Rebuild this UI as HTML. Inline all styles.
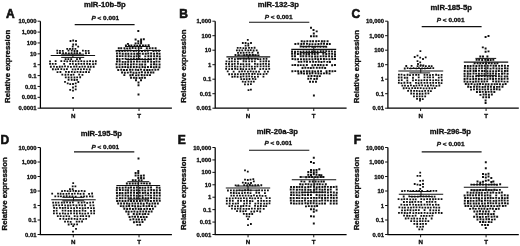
<!DOCTYPE html>
<html><head><meta charset="utf-8"><style>
html,body{margin:0;padding:0;background:#fff;}
svg{display:block;filter:blur(0.35px);}
text{font-family:"Liberation Sans",sans-serif;}
</style></head><body>
<svg width="520" height="246" viewBox="0 0 520 246" fill="#111">
<text x="6.1" y="18.3" font-size="12" font-family="Liberation Sans, sans-serif" font-weight="bold" stroke="#111" stroke-width="0.6">A</text>
<text x="0" y="0" font-size="7.5" text-anchor="middle" transform="translate(104.80 6.80) scale(1.025 1)" font-family="Liberation Sans, sans-serif" font-weight="bold" stroke="#111" stroke-width="0.32">miR-10b-5p</text>
<text x="0" y="0" font-size="6.2" text-anchor="middle" transform="translate(105.30 19.90) scale(1.04 1)" font-family="Liberation Sans, sans-serif" font-weight="bold" stroke="#111" stroke-width="0.32"><tspan font-style="italic">P</tspan> &lt; 0.001</text>
<line x1="74.7" x2="134.6" y1="24.6" y2="24.6" stroke="#111" stroke-width="1.15"/>
<path d="M40.40 21.20 V108.20 H171.90" fill="none" stroke="#000" stroke-width="1.25"/>
<line x1="37.60" x2="40.40" y1="21.20" y2="21.20" stroke="#111" stroke-width="1"/>
<text x="36.40" y="23.25" font-size="5.85" text-anchor="end" font-family="Liberation Sans, sans-serif" font-weight="bold" stroke="#111" stroke-width="0.32">10,000</text>
<line x1="37.60" x2="40.40" y1="32.08" y2="32.08" stroke="#111" stroke-width="1"/>
<text x="36.40" y="34.12" font-size="5.85" text-anchor="end" font-family="Liberation Sans, sans-serif" font-weight="bold" stroke="#111" stroke-width="0.32">1,000</text>
<line x1="37.60" x2="40.40" y1="42.95" y2="42.95" stroke="#111" stroke-width="1"/>
<text x="36.40" y="45.00" font-size="5.85" text-anchor="end" font-family="Liberation Sans, sans-serif" font-weight="bold" stroke="#111" stroke-width="0.32">100</text>
<line x1="37.60" x2="40.40" y1="53.83" y2="53.83" stroke="#111" stroke-width="1"/>
<text x="36.40" y="55.88" font-size="5.85" text-anchor="end" font-family="Liberation Sans, sans-serif" font-weight="bold" stroke="#111" stroke-width="0.32">10</text>
<line x1="37.60" x2="40.40" y1="64.70" y2="64.70" stroke="#111" stroke-width="1"/>
<text x="36.40" y="66.75" font-size="5.85" text-anchor="end" font-family="Liberation Sans, sans-serif" font-weight="bold" stroke="#111" stroke-width="0.32">1</text>
<line x1="37.60" x2="40.40" y1="75.58" y2="75.58" stroke="#111" stroke-width="1"/>
<text x="36.40" y="77.62" font-size="5.85" text-anchor="end" font-family="Liberation Sans, sans-serif" font-weight="bold" stroke="#111" stroke-width="0.32">0.1</text>
<line x1="37.60" x2="40.40" y1="86.45" y2="86.45" stroke="#111" stroke-width="1"/>
<text x="36.40" y="88.50" font-size="5.85" text-anchor="end" font-family="Liberation Sans, sans-serif" font-weight="bold" stroke="#111" stroke-width="0.32">0.01</text>
<line x1="37.60" x2="40.40" y1="97.33" y2="97.33" stroke="#111" stroke-width="1"/>
<text x="36.40" y="99.38" font-size="5.85" text-anchor="end" font-family="Liberation Sans, sans-serif" font-weight="bold" stroke="#111" stroke-width="0.32">0.001</text>
<line x1="37.60" x2="40.40" y1="108.20" y2="108.20" stroke="#111" stroke-width="1"/>
<text x="36.40" y="110.25" font-size="5.85" text-anchor="end" font-family="Liberation Sans, sans-serif" font-weight="bold" stroke="#111" stroke-width="0.32">0.0001</text>
<line x1="73.28" x2="73.28" y1="108.20" y2="111.00" stroke="#111" stroke-width="1"/>
<text x="73.28" y="117.50" font-size="6.2" text-anchor="middle" font-family="Liberation Sans, sans-serif" font-weight="bold" stroke="#111" stroke-width="0.32">N</text>
<line x1="139.03" x2="139.03" y1="108.20" y2="111.00" stroke="#111" stroke-width="1"/>
<text x="139.03" y="117.50" font-size="6.2" text-anchor="middle" font-family="Liberation Sans, sans-serif" font-weight="bold" stroke="#111" stroke-width="0.32">T</text>
<text x="0" y="0" font-size="7.3" text-anchor="middle" transform="translate(9.60 66.30) rotate(-90) scale(1.07 1)" font-family="Liberation Sans, sans-serif" font-weight="bold" stroke="#111" stroke-width="0.32">Relative expression</text>
<text x="179.2" y="18.3" font-size="12" font-family="Liberation Sans, sans-serif" font-weight="bold" stroke="#111" stroke-width="0.6">B</text>
<text x="0" y="0" font-size="7.5" text-anchor="middle" transform="translate(278.30 7.20) scale(1.025 1)" font-family="Liberation Sans, sans-serif" font-weight="bold" stroke="#111" stroke-width="0.32">miR-132-3p</text>
<text x="0" y="0" font-size="6.2" text-anchor="middle" transform="translate(278.65 18.50) scale(1.04 1)" font-family="Liberation Sans, sans-serif" font-weight="bold" stroke="#111" stroke-width="0.32"><tspan font-style="italic">P</tspan> &lt; 0.001</text>
<line x1="249.0" x2="309.3" y1="22.2" y2="22.2" stroke="#111" stroke-width="1.15"/>
<path d="M215.20 21.20 V108.20 H346.60" fill="none" stroke="#000" stroke-width="1.25"/>
<line x1="212.40" x2="215.20" y1="21.20" y2="21.20" stroke="#111" stroke-width="1"/>
<text x="211.20" y="23.25" font-size="5.85" text-anchor="end" font-family="Liberation Sans, sans-serif" font-weight="bold" stroke="#111" stroke-width="0.32">1,000</text>
<line x1="212.40" x2="215.20" y1="35.70" y2="35.70" stroke="#111" stroke-width="1"/>
<text x="211.20" y="37.75" font-size="5.85" text-anchor="end" font-family="Liberation Sans, sans-serif" font-weight="bold" stroke="#111" stroke-width="0.32">100</text>
<line x1="212.40" x2="215.20" y1="50.20" y2="50.20" stroke="#111" stroke-width="1"/>
<text x="211.20" y="52.25" font-size="5.85" text-anchor="end" font-family="Liberation Sans, sans-serif" font-weight="bold" stroke="#111" stroke-width="0.32">10</text>
<line x1="212.40" x2="215.20" y1="64.70" y2="64.70" stroke="#111" stroke-width="1"/>
<text x="211.20" y="66.75" font-size="5.85" text-anchor="end" font-family="Liberation Sans, sans-serif" font-weight="bold" stroke="#111" stroke-width="0.32">1</text>
<line x1="212.40" x2="215.20" y1="79.20" y2="79.20" stroke="#111" stroke-width="1"/>
<text x="211.20" y="81.25" font-size="5.85" text-anchor="end" font-family="Liberation Sans, sans-serif" font-weight="bold" stroke="#111" stroke-width="0.32">0.1</text>
<line x1="212.40" x2="215.20" y1="93.70" y2="93.70" stroke="#111" stroke-width="1"/>
<text x="211.20" y="95.75" font-size="5.85" text-anchor="end" font-family="Liberation Sans, sans-serif" font-weight="bold" stroke="#111" stroke-width="0.32">0.01</text>
<line x1="212.40" x2="215.20" y1="108.20" y2="108.20" stroke="#111" stroke-width="1"/>
<text x="211.20" y="110.25" font-size="5.85" text-anchor="end" font-family="Liberation Sans, sans-serif" font-weight="bold" stroke="#111" stroke-width="0.32">0.001</text>
<line x1="248.05" x2="248.05" y1="108.20" y2="111.00" stroke="#111" stroke-width="1"/>
<text x="248.05" y="117.50" font-size="6.2" text-anchor="middle" font-family="Liberation Sans, sans-serif" font-weight="bold" stroke="#111" stroke-width="0.32">N</text>
<line x1="313.75" x2="313.75" y1="108.20" y2="111.00" stroke="#111" stroke-width="1"/>
<text x="313.75" y="117.50" font-size="6.2" text-anchor="middle" font-family="Liberation Sans, sans-serif" font-weight="bold" stroke="#111" stroke-width="0.32">T</text>
<text x="0" y="0" font-size="7.3" text-anchor="middle" transform="translate(186.40 66.00) rotate(-90) scale(1.07 1)" font-family="Liberation Sans, sans-serif" font-weight="bold" stroke="#111" stroke-width="0.32">Relative expression</text>
<text x="351.5" y="18.3" font-size="12" font-family="Liberation Sans, sans-serif" font-weight="bold" stroke="#111" stroke-width="0.6">C</text>
<text x="0" y="0" font-size="7.5" text-anchor="middle" transform="translate(451.20 9.90) scale(1.025 1)" font-family="Liberation Sans, sans-serif" font-weight="bold" stroke="#111" stroke-width="0.32">miR-185-5p</text>
<text x="0" y="0" font-size="6.2" text-anchor="middle" transform="translate(450.65 21.90) scale(1.04 1)" font-family="Liberation Sans, sans-serif" font-weight="bold" stroke="#111" stroke-width="0.32"><tspan font-style="italic">P</tspan> &lt; 0.001</text>
<line x1="421.7" x2="481.6" y1="26.6" y2="26.6" stroke="#111" stroke-width="1.15"/>
<path d="M387.90 21.20 V108.20 H518.80" fill="none" stroke="#000" stroke-width="1.25"/>
<line x1="385.10" x2="387.90" y1="21.20" y2="21.20" stroke="#111" stroke-width="1"/>
<text x="383.90" y="23.25" font-size="5.85" text-anchor="end" font-family="Liberation Sans, sans-serif" font-weight="bold" stroke="#111" stroke-width="0.32">10,000</text>
<line x1="385.10" x2="387.90" y1="35.70" y2="35.70" stroke="#111" stroke-width="1"/>
<text x="383.90" y="37.75" font-size="5.85" text-anchor="end" font-family="Liberation Sans, sans-serif" font-weight="bold" stroke="#111" stroke-width="0.32">1,000</text>
<line x1="385.10" x2="387.90" y1="50.20" y2="50.20" stroke="#111" stroke-width="1"/>
<text x="383.90" y="52.25" font-size="5.85" text-anchor="end" font-family="Liberation Sans, sans-serif" font-weight="bold" stroke="#111" stroke-width="0.32">100</text>
<line x1="385.10" x2="387.90" y1="64.70" y2="64.70" stroke="#111" stroke-width="1"/>
<text x="383.90" y="66.75" font-size="5.85" text-anchor="end" font-family="Liberation Sans, sans-serif" font-weight="bold" stroke="#111" stroke-width="0.32">10</text>
<line x1="385.10" x2="387.90" y1="79.20" y2="79.20" stroke="#111" stroke-width="1"/>
<text x="383.90" y="81.25" font-size="5.85" text-anchor="end" font-family="Liberation Sans, sans-serif" font-weight="bold" stroke="#111" stroke-width="0.32">1</text>
<line x1="385.10" x2="387.90" y1="93.70" y2="93.70" stroke="#111" stroke-width="1"/>
<text x="383.90" y="95.75" font-size="5.85" text-anchor="end" font-family="Liberation Sans, sans-serif" font-weight="bold" stroke="#111" stroke-width="0.32">0.1</text>
<line x1="385.10" x2="387.90" y1="108.20" y2="108.20" stroke="#111" stroke-width="1"/>
<text x="383.90" y="110.25" font-size="5.85" text-anchor="end" font-family="Liberation Sans, sans-serif" font-weight="bold" stroke="#111" stroke-width="0.32">0.01</text>
<line x1="420.62" x2="420.62" y1="108.20" y2="111.00" stroke="#111" stroke-width="1"/>
<text x="420.62" y="117.50" font-size="6.2" text-anchor="middle" font-family="Liberation Sans, sans-serif" font-weight="bold" stroke="#111" stroke-width="0.32">N</text>
<line x1="486.07" x2="486.07" y1="108.20" y2="111.00" stroke="#111" stroke-width="1"/>
<text x="486.07" y="117.50" font-size="6.2" text-anchor="middle" font-family="Liberation Sans, sans-serif" font-weight="bold" stroke="#111" stroke-width="0.32">T</text>
<text x="0" y="0" font-size="7.3" text-anchor="middle" transform="translate(359.40 66.60) rotate(-90) scale(1.07 1)" font-family="Liberation Sans, sans-serif" font-weight="bold" stroke="#111" stroke-width="0.32">Relative expression</text>
<text x="0.6" y="143.9" font-size="12" font-family="Liberation Sans, sans-serif" font-weight="bold" stroke="#111" stroke-width="0.6">D</text>
<text x="0" y="0" font-size="7.5" text-anchor="middle" transform="translate(101.30 136.30) scale(1.025 1)" font-family="Liberation Sans, sans-serif" font-weight="bold" stroke="#111" stroke-width="0.32">miR-195-5p</text>
<text x="0" y="0" font-size="6.2" text-anchor="middle" transform="translate(105.30 148.90) scale(1.04 1)" font-family="Liberation Sans, sans-serif" font-weight="bold" stroke="#111" stroke-width="0.32"><tspan font-style="italic">P</tspan> &lt; 0.001</text>
<line x1="74.0" x2="134.3" y1="151.9" y2="151.9" stroke="#111" stroke-width="1.15"/>
<path d="M40.40 147.50 V234.50 H171.90" fill="none" stroke="#000" stroke-width="1.25"/>
<line x1="37.60" x2="40.40" y1="147.50" y2="147.50" stroke="#111" stroke-width="1"/>
<text x="36.40" y="149.55" font-size="5.85" text-anchor="end" font-family="Liberation Sans, sans-serif" font-weight="bold" stroke="#111" stroke-width="0.32">10,000</text>
<line x1="37.60" x2="40.40" y1="162.00" y2="162.00" stroke="#111" stroke-width="1"/>
<text x="36.40" y="164.05" font-size="5.85" text-anchor="end" font-family="Liberation Sans, sans-serif" font-weight="bold" stroke="#111" stroke-width="0.32">1,000</text>
<line x1="37.60" x2="40.40" y1="176.50" y2="176.50" stroke="#111" stroke-width="1"/>
<text x="36.40" y="178.55" font-size="5.85" text-anchor="end" font-family="Liberation Sans, sans-serif" font-weight="bold" stroke="#111" stroke-width="0.32">100</text>
<line x1="37.60" x2="40.40" y1="191.00" y2="191.00" stroke="#111" stroke-width="1"/>
<text x="36.40" y="193.05" font-size="5.85" text-anchor="end" font-family="Liberation Sans, sans-serif" font-weight="bold" stroke="#111" stroke-width="0.32">10</text>
<line x1="37.60" x2="40.40" y1="205.50" y2="205.50" stroke="#111" stroke-width="1"/>
<text x="36.40" y="207.55" font-size="5.85" text-anchor="end" font-family="Liberation Sans, sans-serif" font-weight="bold" stroke="#111" stroke-width="0.32">1</text>
<line x1="37.60" x2="40.40" y1="220.00" y2="220.00" stroke="#111" stroke-width="1"/>
<text x="36.40" y="222.05" font-size="5.85" text-anchor="end" font-family="Liberation Sans, sans-serif" font-weight="bold" stroke="#111" stroke-width="0.32">0.1</text>
<line x1="37.60" x2="40.40" y1="234.50" y2="234.50" stroke="#111" stroke-width="1"/>
<text x="36.40" y="236.55" font-size="5.85" text-anchor="end" font-family="Liberation Sans, sans-serif" font-weight="bold" stroke="#111" stroke-width="0.32">0.01</text>
<line x1="73.28" x2="73.28" y1="234.50" y2="237.30" stroke="#111" stroke-width="1"/>
<text x="73.28" y="243.80" font-size="6.2" text-anchor="middle" font-family="Liberation Sans, sans-serif" font-weight="bold" stroke="#111" stroke-width="0.32">N</text>
<line x1="139.03" x2="139.03" y1="234.50" y2="237.30" stroke="#111" stroke-width="1"/>
<text x="139.03" y="243.80" font-size="6.2" text-anchor="middle" font-family="Liberation Sans, sans-serif" font-weight="bold" stroke="#111" stroke-width="0.32">T</text>
<text x="0" y="0" font-size="7.3" text-anchor="middle" transform="translate(6.60 193.80) rotate(-90) scale(1.07 1)" font-family="Liberation Sans, sans-serif" font-weight="bold" stroke="#111" stroke-width="0.32">Relative expression</text>
<text x="177.7" y="143.9" font-size="12" font-family="Liberation Sans, sans-serif" font-weight="bold" stroke="#111" stroke-width="0.6">E</text>
<text x="0" y="0" font-size="7.5" text-anchor="middle" transform="translate(277.30 133.80) scale(1.025 1)" font-family="Liberation Sans, sans-serif" font-weight="bold" stroke="#111" stroke-width="0.32">miR-20a-3p</text>
<text x="0" y="0" font-size="6.2" text-anchor="middle" transform="translate(278.30 145.20) scale(1.04 1)" font-family="Liberation Sans, sans-serif" font-weight="bold" stroke="#111" stroke-width="0.32"><tspan font-style="italic">P</tspan> &lt; 0.001</text>
<line x1="249.0" x2="309.3" y1="150.2" y2="150.2" stroke="#111" stroke-width="1.15"/>
<path d="M215.20 147.50 V234.50 H346.60" fill="none" stroke="#000" stroke-width="1.25"/>
<line x1="212.40" x2="215.20" y1="147.50" y2="147.50" stroke="#111" stroke-width="1"/>
<text x="211.20" y="149.55" font-size="5.85" text-anchor="end" font-family="Liberation Sans, sans-serif" font-weight="bold" stroke="#111" stroke-width="0.32">10,000</text>
<line x1="212.40" x2="215.20" y1="159.93" y2="159.93" stroke="#111" stroke-width="1"/>
<text x="211.20" y="161.98" font-size="5.85" text-anchor="end" font-family="Liberation Sans, sans-serif" font-weight="bold" stroke="#111" stroke-width="0.32">1,000</text>
<line x1="212.40" x2="215.20" y1="172.36" y2="172.36" stroke="#111" stroke-width="1"/>
<text x="211.20" y="174.41" font-size="5.85" text-anchor="end" font-family="Liberation Sans, sans-serif" font-weight="bold" stroke="#111" stroke-width="0.32">100</text>
<line x1="212.40" x2="215.20" y1="184.79" y2="184.79" stroke="#111" stroke-width="1"/>
<text x="211.20" y="186.84" font-size="5.85" text-anchor="end" font-family="Liberation Sans, sans-serif" font-weight="bold" stroke="#111" stroke-width="0.32">10</text>
<line x1="212.40" x2="215.20" y1="197.21" y2="197.21" stroke="#111" stroke-width="1"/>
<text x="211.20" y="199.26" font-size="5.85" text-anchor="end" font-family="Liberation Sans, sans-serif" font-weight="bold" stroke="#111" stroke-width="0.32">1</text>
<line x1="212.40" x2="215.20" y1="209.64" y2="209.64" stroke="#111" stroke-width="1"/>
<text x="211.20" y="211.69" font-size="5.85" text-anchor="end" font-family="Liberation Sans, sans-serif" font-weight="bold" stroke="#111" stroke-width="0.32">0.1</text>
<line x1="212.40" x2="215.20" y1="222.07" y2="222.07" stroke="#111" stroke-width="1"/>
<text x="211.20" y="224.12" font-size="5.85" text-anchor="end" font-family="Liberation Sans, sans-serif" font-weight="bold" stroke="#111" stroke-width="0.32">0.01</text>
<line x1="212.40" x2="215.20" y1="234.50" y2="234.50" stroke="#111" stroke-width="1"/>
<text x="211.20" y="236.55" font-size="5.85" text-anchor="end" font-family="Liberation Sans, sans-serif" font-weight="bold" stroke="#111" stroke-width="0.32">0.001</text>
<line x1="248.05" x2="248.05" y1="234.50" y2="237.30" stroke="#111" stroke-width="1"/>
<text x="248.05" y="243.80" font-size="6.2" text-anchor="middle" font-family="Liberation Sans, sans-serif" font-weight="bold" stroke="#111" stroke-width="0.32">N</text>
<line x1="313.75" x2="313.75" y1="234.50" y2="237.30" stroke="#111" stroke-width="1"/>
<text x="313.75" y="243.80" font-size="6.2" text-anchor="middle" font-family="Liberation Sans, sans-serif" font-weight="bold" stroke="#111" stroke-width="0.32">T</text>
<text x="0" y="0" font-size="7.3" text-anchor="middle" transform="translate(185.50 193.40) rotate(-90) scale(1.07 1)" font-family="Liberation Sans, sans-serif" font-weight="bold" stroke="#111" stroke-width="0.32">Relative expression</text>
<text x="353.7" y="143.9" font-size="12" font-family="Liberation Sans, sans-serif" font-weight="bold" stroke="#111" stroke-width="0.6">F</text>
<text x="0" y="0" font-size="7.5" text-anchor="middle" transform="translate(450.35 133.80) scale(1.025 1)" font-family="Liberation Sans, sans-serif" font-weight="bold" stroke="#111" stroke-width="0.32">miR-296-5p</text>
<text x="0" y="0" font-size="6.2" text-anchor="middle" transform="translate(450.65 146.20) scale(1.04 1)" font-family="Liberation Sans, sans-serif" font-weight="bold" stroke="#111" stroke-width="0.32"><tspan font-style="italic">P</tspan> &lt; 0.001</text>
<line x1="421.7" x2="481.6" y1="151.9" y2="151.9" stroke="#111" stroke-width="1.15"/>
<path d="M387.90 147.50 V234.50 H518.80" fill="none" stroke="#000" stroke-width="1.25"/>
<line x1="385.10" x2="387.90" y1="147.50" y2="147.50" stroke="#111" stroke-width="1"/>
<text x="383.90" y="149.55" font-size="5.85" text-anchor="end" font-family="Liberation Sans, sans-serif" font-weight="bold" stroke="#111" stroke-width="0.32">10,000</text>
<line x1="385.10" x2="387.90" y1="162.00" y2="162.00" stroke="#111" stroke-width="1"/>
<text x="383.90" y="164.05" font-size="5.85" text-anchor="end" font-family="Liberation Sans, sans-serif" font-weight="bold" stroke="#111" stroke-width="0.32">1,000</text>
<line x1="385.10" x2="387.90" y1="176.50" y2="176.50" stroke="#111" stroke-width="1"/>
<text x="383.90" y="178.55" font-size="5.85" text-anchor="end" font-family="Liberation Sans, sans-serif" font-weight="bold" stroke="#111" stroke-width="0.32">100</text>
<line x1="385.10" x2="387.90" y1="191.00" y2="191.00" stroke="#111" stroke-width="1"/>
<text x="383.90" y="193.05" font-size="5.85" text-anchor="end" font-family="Liberation Sans, sans-serif" font-weight="bold" stroke="#111" stroke-width="0.32">10</text>
<line x1="385.10" x2="387.90" y1="205.50" y2="205.50" stroke="#111" stroke-width="1"/>
<text x="383.90" y="207.55" font-size="5.85" text-anchor="end" font-family="Liberation Sans, sans-serif" font-weight="bold" stroke="#111" stroke-width="0.32">1</text>
<line x1="385.10" x2="387.90" y1="220.00" y2="220.00" stroke="#111" stroke-width="1"/>
<text x="383.90" y="222.05" font-size="5.85" text-anchor="end" font-family="Liberation Sans, sans-serif" font-weight="bold" stroke="#111" stroke-width="0.32">0.1</text>
<line x1="385.10" x2="387.90" y1="234.50" y2="234.50" stroke="#111" stroke-width="1"/>
<text x="383.90" y="236.55" font-size="5.85" text-anchor="end" font-family="Liberation Sans, sans-serif" font-weight="bold" stroke="#111" stroke-width="0.32">0.01</text>
<line x1="420.62" x2="420.62" y1="234.50" y2="237.30" stroke="#111" stroke-width="1"/>
<text x="420.62" y="243.80" font-size="6.2" text-anchor="middle" font-family="Liberation Sans, sans-serif" font-weight="bold" stroke="#111" stroke-width="0.32">N</text>
<line x1="486.07" x2="486.07" y1="234.50" y2="237.30" stroke="#111" stroke-width="1"/>
<text x="486.07" y="243.80" font-size="6.2" text-anchor="middle" font-family="Liberation Sans, sans-serif" font-weight="bold" stroke="#111" stroke-width="0.32">T</text>
<text x="0" y="0" font-size="7.3" text-anchor="middle" transform="translate(359.20 193.70) rotate(-90) scale(1.07 1)" font-family="Liberation Sans, sans-serif" font-weight="bold" stroke="#111" stroke-width="0.32">Relative expression</text>
<line x1="50.70" x2="95.10" y1="55.50" y2="55.50" stroke="#111" stroke-width="1.1"/>
<line x1="61.20" x2="84.20" y1="54.20" y2="54.20" stroke="#111" stroke-width="1.0"/>
<line x1="61.20" x2="84.20" y1="57.40" y2="57.40" stroke="#111" stroke-width="1.0"/>
<line x1="72.90" x2="72.90" y1="54.20" y2="57.40" stroke="#111" stroke-width="1.0"/>
<line x1="116.40" x2="160.80" y1="50.50" y2="50.50" stroke="#111" stroke-width="1.1"/>
<line x1="125.00" x2="150.00" y1="46.50" y2="46.50" stroke="#111" stroke-width="1.0"/>
<line x1="126.00" x2="150.00" y1="59.50" y2="59.50" stroke="#111" stroke-width="1.0"/>
<line x1="138.60" x2="138.60" y1="46.50" y2="59.50" stroke="#111" stroke-width="1.0"/>
<line x1="226.40" x2="270.20" y1="56.90" y2="56.90" stroke="#111" stroke-width="1.1"/>
<line x1="236.70" x2="258.10" y1="55.20" y2="55.20" stroke="#111" stroke-width="1.0"/>
<line x1="236.70" x2="258.10" y1="58.70" y2="58.70" stroke="#111" stroke-width="1.0"/>
<line x1="248.30" x2="248.30" y1="55.20" y2="58.70" stroke="#111" stroke-width="1.0"/>
<line x1="291.30" x2="336.20" y1="49.40" y2="49.40" stroke="#111" stroke-width="1.1"/>
<line x1="300.00" x2="326.00" y1="46.40" y2="46.40" stroke="#111" stroke-width="1.0"/>
<line x1="300.00" x2="326.00" y1="52.60" y2="52.60" stroke="#111" stroke-width="1.0"/>
<line x1="313.75" x2="313.75" y1="46.40" y2="52.60" stroke="#111" stroke-width="1.0"/>
<line x1="398.30" x2="443.20" y1="71.00" y2="71.00" stroke="#111" stroke-width="1.1"/>
<line x1="409.00" x2="430.00" y1="68.50" y2="68.50" stroke="#111" stroke-width="1.0"/>
<line x1="409.30" x2="430.10" y1="72.90" y2="72.90" stroke="#111" stroke-width="1.0"/>
<line x1="420.75" x2="420.75" y1="68.50" y2="72.90" stroke="#111" stroke-width="1.0"/>
<line x1="463.80" x2="508.20" y1="62.10" y2="62.10" stroke="#111" stroke-width="1.1"/>
<line x1="475.40" x2="496.20" y1="58.40" y2="58.40" stroke="#111" stroke-width="1.0"/>
<line x1="476.00" x2="495.60" y1="75.70" y2="75.70" stroke="#111" stroke-width="1.0"/>
<line x1="486.00" x2="486.00" y1="58.40" y2="75.70" stroke="#111" stroke-width="1.0"/>
<line x1="51.30" x2="95.70" y1="199.70" y2="199.70" stroke="#111" stroke-width="1.1"/>
<line x1="62.30" x2="84.20" y1="197.30" y2="197.30" stroke="#111" stroke-width="1.0"/>
<line x1="62.30" x2="84.20" y1="200.80" y2="200.80" stroke="#111" stroke-width="1.0"/>
<line x1="73.50" x2="73.50" y1="197.30" y2="200.80" stroke="#111" stroke-width="1.0"/>
<line x1="116.40" x2="160.20" y1="185.50" y2="185.50" stroke="#111" stroke-width="1.1"/>
<line x1="127.40" x2="149.30" y1="181.70" y2="181.70" stroke="#111" stroke-width="1.0"/>
<line x1="128.40" x2="148.20" y1="199.10" y2="199.10" stroke="#111" stroke-width="1.0"/>
<line x1="138.30" x2="138.30" y1="181.70" y2="199.10" stroke="#111" stroke-width="1.0"/>
<line x1="225.80" x2="270.20" y1="188.00" y2="188.00" stroke="#111" stroke-width="1.1"/>
<line x1="236.00" x2="260.00" y1="186.00" y2="186.00" stroke="#111" stroke-width="1.0"/>
<line x1="236.00" x2="260.00" y1="190.20" y2="190.20" stroke="#111" stroke-width="1.0"/>
<line x1="248.00" x2="248.00" y1="186.00" y2="190.20" stroke="#111" stroke-width="1.0"/>
<line x1="291.80" x2="336.20" y1="179.70" y2="179.70" stroke="#111" stroke-width="1.1"/>
<line x1="301.00" x2="324.00" y1="177.00" y2="177.00" stroke="#111" stroke-width="1.0"/>
<line x1="301.00" x2="324.00" y1="192.30" y2="192.30" stroke="#111" stroke-width="1.0"/>
<line x1="314.00" x2="314.00" y1="177.00" y2="192.30" stroke="#111" stroke-width="1.0"/>
<line x1="398.80" x2="443.20" y1="194.20" y2="194.20" stroke="#111" stroke-width="1.1"/>
<line x1="409.30" x2="431.20" y1="191.50" y2="191.50" stroke="#111" stroke-width="1.0"/>
<line x1="409.30" x2="431.20" y1="196.60" y2="196.60" stroke="#111" stroke-width="1.0"/>
<line x1="421.00" x2="421.00" y1="191.50" y2="196.60" stroke="#111" stroke-width="1.0"/>
<line x1="463.80" x2="508.20" y1="187.30" y2="187.30" stroke="#111" stroke-width="1.1"/>
<line x1="472.00" x2="496.20" y1="184.70" y2="184.70" stroke="#111" stroke-width="1.0"/>
<line x1="472.00" x2="496.20" y1="190.00" y2="190.00" stroke="#111" stroke-width="1.0"/>
<line x1="486.00" x2="486.00" y1="184.70" y2="190.00" stroke="#111" stroke-width="1.0"/>
<path d="M69.60 40.10h1.8v1.8h-1.8zM72.30 39.60h1.8v1.8h-1.8zM75.10 40.10h1.8v1.8h-1.8zM72.30 43.60h1.8v1.8h-1.8zM75.10 43.60h1.8v1.8h-1.8zM71.80 45.80h1.8v1.8h-1.8zM77.30 45.80h1.8v1.8h-1.8zM66.30 48.00h1.8v1.8h-1.8zM69.10 48.00h1.8v1.8h-1.8zM71.80 48.00h1.8v1.8h-1.8zM74.50 48.00h1.8v1.8h-1.8zM64.10 80.90h1.8v1.8h-1.8zM66.80 82.50h1.8v1.8h-1.8zM69.30 83.20h1.8v1.8h-1.8zM72.10 83.10h1.8v1.8h-1.8zM74.80 82.50h1.8v1.8h-1.8zM77.40 81.10h1.8v1.8h-1.8zM74.80 85.40h1.8v1.8h-1.8zM72.10 86.60h1.8v1.8h-1.8zM69.30 88.90h1.8v1.8h-1.8zM72.10 89.70h1.8v1.8h-1.8zM74.80 88.40h1.8v1.8h-1.8zM72.10 96.90h1.8v1.8h-1.8zM56.34 49.76h1.8v1.8h-1.8zM59.06 49.91h1.8v1.8h-1.8zM61.90 49.90h1.8v1.8h-1.8zM67.61 49.74h1.8v1.8h-1.8zM70.84 49.75h1.8v1.8h-1.8zM73.59 50.08h1.8v1.8h-1.8zM76.32 50.09h1.8v1.8h-1.8zM81.97 49.76h1.8v1.8h-1.8zM84.83 50.03h1.8v1.8h-1.8zM87.62 49.93h1.8v1.8h-1.8zM56.49 52.25h1.8v1.8h-1.8zM59.06 52.12h1.8v1.8h-1.8zM62.22 52.27h1.8v1.8h-1.8zM65.02 52.28h1.8v1.8h-1.8zM67.97 52.38h1.8v1.8h-1.8zM70.71 52.31h1.8v1.8h-1.8zM73.64 52.22h1.8v1.8h-1.8zM76.18 52.27h1.8v1.8h-1.8zM79.05 52.30h1.8v1.8h-1.8zM85.06 52.33h1.8v1.8h-1.8zM87.96 52.23h1.8v1.8h-1.8zM64.72 58.14h1.8v1.8h-1.8zM67.45 58.24h1.8v1.8h-1.8zM70.31 58.17h1.8v1.8h-1.8zM76.10 58.30h1.8v1.8h-1.8zM79.04 58.01h1.8v1.8h-1.8zM49.14 60.47h1.8v1.8h-1.8zM54.73 60.25h1.8v1.8h-1.8zM60.41 60.30h1.8v1.8h-1.8zM63.64 60.23h1.8v1.8h-1.8zM66.32 60.55h1.8v1.8h-1.8zM69.33 60.31h1.8v1.8h-1.8zM71.93 60.55h1.8v1.8h-1.8zM74.68 60.27h1.8v1.8h-1.8zM77.57 60.39h1.8v1.8h-1.8zM80.43 60.20h1.8v1.8h-1.8zM83.33 60.43h1.8v1.8h-1.8zM86.35 60.41h1.8v1.8h-1.8zM89.19 60.22h1.8v1.8h-1.8zM92.09 60.55h1.8v1.8h-1.8zM94.95 60.36h1.8v1.8h-1.8zM49.15 62.91h1.8v1.8h-1.8zM51.83 62.90h1.8v1.8h-1.8zM54.73 63.01h1.8v1.8h-1.8zM63.25 63.02h1.8v1.8h-1.8zM69.21 62.93h1.8v1.8h-1.8zM71.92 63.02h1.8v1.8h-1.8zM75.02 63.27h1.8v1.8h-1.8zM77.69 62.91h1.8v1.8h-1.8zM80.47 62.98h1.8v1.8h-1.8zM83.23 62.88h1.8v1.8h-1.8zM86.26 62.93h1.8v1.8h-1.8zM88.86 63.08h1.8v1.8h-1.8zM92.13 63.15h1.8v1.8h-1.8zM94.68 63.02h1.8v1.8h-1.8zM49.94 65.85h1.8v1.8h-1.8zM53.10 65.67h1.8v1.8h-1.8zM55.96 65.94h1.8v1.8h-1.8zM58.81 65.87h1.8v1.8h-1.8zM61.37 65.75h1.8v1.8h-1.8zM64.12 65.55h1.8v1.8h-1.8zM67.09 65.82h1.8v1.8h-1.8zM70.03 65.92h1.8v1.8h-1.8zM73.13 65.69h1.8v1.8h-1.8zM75.62 65.62h1.8v1.8h-1.8zM78.67 65.90h1.8v1.8h-1.8zM81.45 65.80h1.8v1.8h-1.8zM84.10 65.81h1.8v1.8h-1.8zM87.30 65.84h1.8v1.8h-1.8zM89.85 65.86h1.8v1.8h-1.8zM92.77 65.86h1.8v1.8h-1.8zM51.95 68.37h1.8v1.8h-1.8zM54.79 68.50h1.8v1.8h-1.8zM57.23 68.27h1.8v1.8h-1.8zM60.42 68.27h1.8v1.8h-1.8zM63.35 68.48h1.8v1.8h-1.8zM65.99 68.27h1.8v1.8h-1.8zM71.74 68.42h1.8v1.8h-1.8zM74.48 68.56h1.8v1.8h-1.8zM77.22 68.32h1.8v1.8h-1.8zM80.08 68.45h1.8v1.8h-1.8zM83.02 68.27h1.8v1.8h-1.8zM85.84 68.40h1.8v1.8h-1.8zM88.81 68.58h1.8v1.8h-1.8zM56.61 71.25h1.8v1.8h-1.8zM59.52 71.10h1.8v1.8h-1.8zM65.04 70.89h1.8v1.8h-1.8zM67.89 71.08h1.8v1.8h-1.8zM70.93 71.02h1.8v1.8h-1.8zM73.78 71.20h1.8v1.8h-1.8zM76.63 70.99h1.8v1.8h-1.8zM79.59 71.09h1.8v1.8h-1.8zM82.43 71.25h1.8v1.8h-1.8zM85.21 71.09h1.8v1.8h-1.8zM88.01 71.16h1.8v1.8h-1.8zM61.42 73.77h1.8v1.8h-1.8zM64.52 73.84h1.8v1.8h-1.8zM67.37 73.66h1.8v1.8h-1.8zM70.22 73.89h1.8v1.8h-1.8zM72.66 73.73h1.8v1.8h-1.8zM78.33 73.82h1.8v1.8h-1.8zM81.54 73.92h1.8v1.8h-1.8zM64.86 76.52h1.8v1.8h-1.8zM67.70 76.58h1.8v1.8h-1.8zM70.59 76.61h1.8v1.8h-1.8zM73.57 76.62h1.8v1.8h-1.8zM76.26 76.40h1.8v1.8h-1.8zM79.29 76.36h1.8v1.8h-1.8zM67.67 79.03h1.8v1.8h-1.8zM70.79 78.91h1.8v1.8h-1.8zM73.55 79.08h1.8v1.8h-1.8zM76.13 79.03h1.8v1.8h-1.8zM137.33 30.12h1.95v1.95h-1.95zM134.62 38.52h1.95v1.95h-1.95zM140.12 38.52h1.95v1.95h-1.95zM142.83 38.23h1.95v1.95h-1.95zM137.33 40.32h1.95v1.95h-1.95zM140.12 40.62h1.95v1.95h-1.95zM134.62 42.42h1.95v1.95h-1.95zM137.33 42.42h1.95v1.95h-1.95zM140.12 42.42h1.95v1.95h-1.95zM126.93 42.92h1.95v1.95h-1.95zM135.03 79.33h1.95v1.95h-1.95zM140.03 79.33h1.95v1.95h-1.95zM137.53 81.53h1.95v1.95h-1.95zM137.53 84.23h1.95v1.95h-1.95zM137.53 93.62h1.95v1.95h-1.95zM124.94 44.53h1.95v1.95h-1.95zM127.97 44.64h1.95v1.95h-1.95zM130.38 44.43h1.95v1.95h-1.95zM133.56 44.43h1.95v1.95h-1.95zM136.24 44.69h1.95v1.95h-1.95zM139.00 44.38h1.95v1.95h-1.95zM142.01 44.61h1.95v1.95h-1.95zM144.60 44.60h1.95v1.95h-1.95zM147.64 44.35h1.95v1.95h-1.95zM117.80 47.28h1.95v1.95h-1.95zM120.23 47.37h1.95v1.95h-1.95zM123.47 47.21h1.95v1.95h-1.95zM126.16 47.40h1.95v1.95h-1.95zM128.80 47.24h1.95v1.95h-1.95zM131.64 47.09h1.95v1.95h-1.95zM134.53 47.15h1.95v1.95h-1.95zM137.66 47.14h1.95v1.95h-1.95zM140.22 47.16h1.95v1.95h-1.95zM145.84 47.32h1.95v1.95h-1.95zM148.78 47.21h1.95v1.95h-1.95zM151.59 47.35h1.95v1.95h-1.95zM154.60 47.22h1.95v1.95h-1.95zM115.66 49.88h1.95v1.95h-1.95zM118.43 50.12h1.95v1.95h-1.95zM121.36 50.01h1.95v1.95h-1.95zM123.99 49.86h1.95v1.95h-1.95zM126.70 49.75h1.95v1.95h-1.95zM129.62 49.79h1.95v1.95h-1.95zM132.76 50.07h1.95v1.95h-1.95zM135.33 49.82h1.95v1.95h-1.95zM138.27 49.79h1.95v1.95h-1.95zM141.02 50.11h1.95v1.95h-1.95zM144.01 49.82h1.95v1.95h-1.95zM146.74 49.87h1.95v1.95h-1.95zM152.53 49.93h1.95v1.95h-1.95zM155.39 49.73h1.95v1.95h-1.95zM158.12 49.76h1.95v1.95h-1.95zM115.98 52.44h1.95v1.95h-1.95zM118.78 52.52h1.95v1.95h-1.95zM121.75 52.73h1.95v1.95h-1.95zM124.69 52.78h1.95v1.95h-1.95zM127.34 52.82h1.95v1.95h-1.95zM130.39 52.68h1.95v1.95h-1.95zM133.30 52.78h1.95v1.95h-1.95zM136.10 52.75h1.95v1.95h-1.95zM138.84 52.63h1.95v1.95h-1.95zM141.83 52.76h1.95v1.95h-1.95zM144.73 52.70h1.95v1.95h-1.95zM147.25 52.44h1.95v1.95h-1.95zM150.16 52.47h1.95v1.95h-1.95zM153.11 52.68h1.95v1.95h-1.95zM156.02 52.62h1.95v1.95h-1.95zM158.53 52.74h1.95v1.95h-1.95zM116.08 55.33h1.95v1.95h-1.95zM118.89 55.15h1.95v1.95h-1.95zM121.53 55.15h1.95v1.95h-1.95zM124.62 55.21h1.95v1.95h-1.95zM127.60 55.32h1.95v1.95h-1.95zM130.20 55.40h1.95v1.95h-1.95zM133.12 55.38h1.95v1.95h-1.95zM135.73 55.23h1.95v1.95h-1.95zM138.66 55.35h1.95v1.95h-1.95zM144.34 55.39h1.95v1.95h-1.95zM147.40 55.24h1.95v1.95h-1.95zM150.14 55.31h1.95v1.95h-1.95zM153.21 55.20h1.95v1.95h-1.95zM156.08 55.13h1.95v1.95h-1.95zM158.69 55.45h1.95v1.95h-1.95zM116.12 58.00h1.95v1.95h-1.95zM118.59 58.20h1.95v1.95h-1.95zM121.63 57.88h1.95v1.95h-1.95zM124.66 57.88h1.95v1.95h-1.95zM127.29 58.18h1.95v1.95h-1.95zM130.00 58.18h1.95v1.95h-1.95zM132.75 57.83h1.95v1.95h-1.95zM135.81 57.95h1.95v1.95h-1.95zM138.61 57.95h1.95v1.95h-1.95zM141.29 58.13h1.95v1.95h-1.95zM144.20 58.20h1.95v1.95h-1.95zM147.44 57.94h1.95v1.95h-1.95zM150.03 58.22h1.95v1.95h-1.95zM152.87 58.00h1.95v1.95h-1.95zM155.56 57.87h1.95v1.95h-1.95zM158.80 57.94h1.95v1.95h-1.95zM116.03 60.62h1.95v1.95h-1.95zM118.67 60.60h1.95v1.95h-1.95zM121.74 60.88h1.95v1.95h-1.95zM124.43 60.89h1.95v1.95h-1.95zM127.24 60.81h1.95v1.95h-1.95zM130.18 60.71h1.95v1.95h-1.95zM132.99 60.64h1.95v1.95h-1.95zM135.98 60.58h1.95v1.95h-1.95zM138.53 60.64h1.95v1.95h-1.95zM141.70 60.63h1.95v1.95h-1.95zM144.21 60.75h1.95v1.95h-1.95zM147.00 60.59h1.95v1.95h-1.95zM150.22 60.72h1.95v1.95h-1.95zM153.07 60.92h1.95v1.95h-1.95zM155.53 60.60h1.95v1.95h-1.95zM158.36 60.66h1.95v1.95h-1.95zM115.54 63.32h1.95v1.95h-1.95zM118.63 63.58h1.95v1.95h-1.95zM121.40 63.39h1.95v1.95h-1.95zM124.23 63.36h1.95v1.95h-1.95zM127.03 63.61h1.95v1.95h-1.95zM129.99 63.48h1.95v1.95h-1.95zM132.70 63.33h1.95v1.95h-1.95zM135.64 63.40h1.95v1.95h-1.95zM138.71 63.57h1.95v1.95h-1.95zM141.16 63.51h1.95v1.95h-1.95zM144.23 63.46h1.95v1.95h-1.95zM150.15 63.56h1.95v1.95h-1.95zM153.03 63.32h1.95v1.95h-1.95zM155.47 63.43h1.95v1.95h-1.95zM158.58 63.60h1.95v1.95h-1.95zM115.81 66.18h1.95v1.95h-1.95zM118.53 66.15h1.95v1.95h-1.95zM121.54 66.02h1.95v1.95h-1.95zM124.32 66.05h1.95v1.95h-1.95zM126.98 66.18h1.95v1.95h-1.95zM129.76 65.95h1.95v1.95h-1.95zM132.84 66.08h1.95v1.95h-1.95zM135.70 65.93h1.95v1.95h-1.95zM138.48 66.31h1.95v1.95h-1.95zM141.54 66.12h1.95v1.95h-1.95zM144.07 66.31h1.95v1.95h-1.95zM146.95 65.93h1.95v1.95h-1.95zM149.99 66.09h1.95v1.95h-1.95zM152.83 66.30h1.95v1.95h-1.95zM155.37 66.06h1.95v1.95h-1.95zM158.41 66.20h1.95v1.95h-1.95zM117.28 68.94h1.95v1.95h-1.95zM120.28 68.71h1.95v1.95h-1.95zM123.04 68.95h1.95v1.95h-1.95zM125.84 68.93h1.95v1.95h-1.95zM129.06 68.82h1.95v1.95h-1.95zM131.54 68.79h1.95v1.95h-1.95zM134.76 68.68h1.95v1.95h-1.95zM137.24 69.01h1.95v1.95h-1.95zM140.01 68.65h1.95v1.95h-1.95zM143.28 68.98h1.95v1.95h-1.95zM146.18 69.00h1.95v1.95h-1.95zM148.62 69.00h1.95v1.95h-1.95zM151.40 68.89h1.95v1.95h-1.95zM154.42 68.76h1.95v1.95h-1.95zM157.17 68.63h1.95v1.95h-1.95zM121.07 71.47h1.95v1.95h-1.95zM123.84 71.71h1.95v1.95h-1.95zM126.81 71.65h1.95v1.95h-1.95zM129.69 71.34h1.95v1.95h-1.95zM132.51 71.69h1.95v1.95h-1.95zM135.36 71.68h1.95v1.95h-1.95zM138.23 71.65h1.95v1.95h-1.95zM140.90 71.34h1.95v1.95h-1.95zM144.19 71.43h1.95v1.95h-1.95zM147.03 71.46h1.95v1.95h-1.95zM149.91 71.57h1.95v1.95h-1.95zM152.41 71.61h1.95v1.95h-1.95zM123.35 74.14h1.95v1.95h-1.95zM129.35 74.28h1.95v1.95h-1.95zM131.75 74.12h1.95v1.95h-1.95zM135.07 74.41h1.95v1.95h-1.95zM137.56 74.20h1.95v1.95h-1.95zM140.75 74.10h1.95v1.95h-1.95zM143.51 74.35h1.95v1.95h-1.95zM146.29 74.16h1.95v1.95h-1.95zM149.00 74.17h1.95v1.95h-1.95zM130.04 76.76h1.95v1.95h-1.95zM132.88 76.82h1.95v1.95h-1.95zM135.37 76.95h1.95v1.95h-1.95zM138.69 77.08h1.95v1.95h-1.95zM141.18 76.76h1.95v1.95h-1.95zM143.95 76.92h1.95v1.95h-1.95zM246.90 39.00h1.8v1.8h-1.8zM241.90 42.10h1.8v1.8h-1.8zM244.70 42.10h1.8v1.8h-1.8zM247.40 42.70h1.8v1.8h-1.8zM250.10 42.10h1.8v1.8h-1.8zM244.70 44.70h1.8v1.8h-1.8zM247.40 44.70h1.8v1.8h-1.8zM247.60 89.30h1.8v1.8h-1.8zM250.00 88.80h1.8v1.8h-1.8zM236.80 46.98h1.8v1.8h-1.8zM239.51 47.05h1.8v1.8h-1.8zM242.52 47.14h1.8v1.8h-1.8zM245.06 47.14h1.8v1.8h-1.8zM248.13 46.95h1.8v1.8h-1.8zM250.80 46.90h1.8v1.8h-1.8zM253.67 46.86h1.8v1.8h-1.8zM235.97 49.43h1.8v1.8h-1.8zM238.57 49.60h1.8v1.8h-1.8zM241.34 49.52h1.8v1.8h-1.8zM244.57 49.24h1.8v1.8h-1.8zM247.33 49.54h1.8v1.8h-1.8zM249.80 49.32h1.8v1.8h-1.8zM252.72 49.59h1.8v1.8h-1.8zM255.77 49.57h1.8v1.8h-1.8zM237.12 51.95h1.8v1.8h-1.8zM239.91 51.91h1.8v1.8h-1.8zM242.68 51.84h1.8v1.8h-1.8zM245.59 51.75h1.8v1.8h-1.8zM248.43 51.70h1.8v1.8h-1.8zM251.51 51.68h1.8v1.8h-1.8zM257.04 51.87h1.8v1.8h-1.8zM234.54 54.12h1.8v1.8h-1.8zM237.70 54.22h1.8v1.8h-1.8zM243.20 54.22h1.8v1.8h-1.8zM245.90 54.07h1.8v1.8h-1.8zM248.90 54.11h1.8v1.8h-1.8zM252.03 54.12h1.8v1.8h-1.8zM254.58 54.17h1.8v1.8h-1.8zM257.68 54.40h1.8v1.8h-1.8zM228.31 57.88h1.8v1.8h-1.8zM231.08 57.80h1.8v1.8h-1.8zM234.04 58.13h1.8v1.8h-1.8zM237.12 57.98h1.8v1.8h-1.8zM239.53 58.02h1.8v1.8h-1.8zM242.83 57.84h1.8v1.8h-1.8zM245.41 58.00h1.8v1.8h-1.8zM248.22 58.01h1.8v1.8h-1.8zM250.98 58.00h1.8v1.8h-1.8zM254.26 57.88h1.8v1.8h-1.8zM257.10 58.19h1.8v1.8h-1.8zM259.50 58.17h1.8v1.8h-1.8zM262.78 58.05h1.8v1.8h-1.8zM265.59 57.86h1.8v1.8h-1.8zM225.57 60.42h1.8v1.8h-1.8zM228.45 60.66h1.8v1.8h-1.8zM230.99 60.49h1.8v1.8h-1.8zM233.92 60.38h1.8v1.8h-1.8zM236.94 60.69h1.8v1.8h-1.8zM242.66 60.35h1.8v1.8h-1.8zM245.19 60.57h1.8v1.8h-1.8zM248.29 60.45h1.8v1.8h-1.8zM251.12 60.50h1.8v1.8h-1.8zM253.90 60.51h1.8v1.8h-1.8zM259.62 60.42h1.8v1.8h-1.8zM262.62 60.51h1.8v1.8h-1.8zM265.31 60.37h1.8v1.8h-1.8zM267.99 60.50h1.8v1.8h-1.8zM225.22 63.04h1.8v1.8h-1.8zM228.05 63.11h1.8v1.8h-1.8zM231.24 63.17h1.8v1.8h-1.8zM233.75 63.06h1.8v1.8h-1.8zM237.05 62.91h1.8v1.8h-1.8zM239.92 63.15h1.8v1.8h-1.8zM242.37 63.25h1.8v1.8h-1.8zM245.60 63.23h1.8v1.8h-1.8zM248.37 63.23h1.8v1.8h-1.8zM254.05 62.92h1.8v1.8h-1.8zM256.66 63.19h1.8v1.8h-1.8zM259.63 63.23h1.8v1.8h-1.8zM262.36 63.06h1.8v1.8h-1.8zM265.09 62.93h1.8v1.8h-1.8zM268.01 63.23h1.8v1.8h-1.8zM225.51 65.75h1.8v1.8h-1.8zM228.42 65.44h1.8v1.8h-1.8zM231.19 65.53h1.8v1.8h-1.8zM234.00 65.62h1.8v1.8h-1.8zM236.63 65.79h1.8v1.8h-1.8zM239.62 65.71h1.8v1.8h-1.8zM242.77 65.62h1.8v1.8h-1.8zM245.51 65.57h1.8v1.8h-1.8zM248.35 65.41h1.8v1.8h-1.8zM250.95 65.65h1.8v1.8h-1.8zM253.97 65.66h1.8v1.8h-1.8zM256.53 65.40h1.8v1.8h-1.8zM259.68 65.56h1.8v1.8h-1.8zM262.67 65.44h1.8v1.8h-1.8zM265.40 65.40h1.8v1.8h-1.8zM267.93 65.53h1.8v1.8h-1.8zM225.23 68.06h1.8v1.8h-1.8zM228.32 68.16h1.8v1.8h-1.8zM231.19 68.11h1.8v1.8h-1.8zM234.19 68.02h1.8v1.8h-1.8zM236.62 68.18h1.8v1.8h-1.8zM239.82 68.08h1.8v1.8h-1.8zM242.28 68.18h1.8v1.8h-1.8zM245.30 68.18h1.8v1.8h-1.8zM248.44 68.21h1.8v1.8h-1.8zM251.28 67.94h1.8v1.8h-1.8zM253.88 68.02h1.8v1.8h-1.8zM259.38 68.14h1.8v1.8h-1.8zM262.30 68.00h1.8v1.8h-1.8zM265.33 68.18h1.8v1.8h-1.8zM268.33 67.99h1.8v1.8h-1.8zM226.80 70.57h1.8v1.8h-1.8zM232.74 70.74h1.8v1.8h-1.8zM238.42 70.64h1.8v1.8h-1.8zM241.12 70.54h1.8v1.8h-1.8zM243.86 70.47h1.8v1.8h-1.8zM246.97 70.73h1.8v1.8h-1.8zM249.80 70.56h1.8v1.8h-1.8zM252.51 70.77h1.8v1.8h-1.8zM255.28 70.71h1.8v1.8h-1.8zM258.10 70.80h1.8v1.8h-1.8zM263.81 70.75h1.8v1.8h-1.8zM267.02 70.75h1.8v1.8h-1.8zM228.27 73.33h1.8v1.8h-1.8zM231.08 73.34h1.8v1.8h-1.8zM234.16 73.25h1.8v1.8h-1.8zM236.89 73.32h1.8v1.8h-1.8zM239.94 73.15h1.8v1.8h-1.8zM242.64 73.10h1.8v1.8h-1.8zM245.52 73.01h1.8v1.8h-1.8zM248.13 72.99h1.8v1.8h-1.8zM251.37 73.12h1.8v1.8h-1.8zM253.77 73.00h1.8v1.8h-1.8zM256.93 73.26h1.8v1.8h-1.8zM259.49 73.22h1.8v1.8h-1.8zM262.72 73.31h1.8v1.8h-1.8zM265.60 73.01h1.8v1.8h-1.8zM231.42 75.88h1.8v1.8h-1.8zM233.89 75.59h1.8v1.8h-1.8zM236.71 75.85h1.8v1.8h-1.8zM239.86 75.84h1.8v1.8h-1.8zM242.53 75.55h1.8v1.8h-1.8zM245.62 75.59h1.8v1.8h-1.8zM248.30 75.52h1.8v1.8h-1.8zM251.08 75.80h1.8v1.8h-1.8zM253.95 75.90h1.8v1.8h-1.8zM257.06 75.76h1.8v1.8h-1.8zM262.54 75.68h1.8v1.8h-1.8zM240.41 78.18h1.8v1.8h-1.8zM243.14 78.13h1.8v1.8h-1.8zM245.77 78.37h1.8v1.8h-1.8zM248.58 78.12h1.8v1.8h-1.8zM251.91 78.04h1.8v1.8h-1.8zM254.52 78.24h1.8v1.8h-1.8zM241.85 80.64h1.8v1.8h-1.8zM244.47 80.90h1.8v1.8h-1.8zM247.62 80.68h1.8v1.8h-1.8zM250.35 80.77h1.8v1.8h-1.8zM252.90 80.82h1.8v1.8h-1.8zM244.04 83.42h1.8v1.8h-1.8zM247.20 83.41h1.8v1.8h-1.8zM250.01 83.24h1.8v1.8h-1.8zM310.02 26.82h1.95v1.95h-1.95zM312.52 29.12h1.95v1.95h-1.95zM315.72 30.42h1.95v1.95h-1.95zM312.82 32.52h1.95v1.95h-1.95zM310.02 35.23h1.95v1.95h-1.95zM312.82 35.23h1.95v1.95h-1.95zM315.52 35.23h1.95v1.95h-1.95zM312.92 94.53h1.95v1.95h-1.95zM300.75 40.18h1.95v1.95h-1.95zM303.44 40.38h1.95v1.95h-1.95zM306.35 40.13h1.95v1.95h-1.95zM309.35 40.18h1.95v1.95h-1.95zM312.07 40.21h1.95v1.95h-1.95zM315.18 40.33h1.95v1.95h-1.95zM317.82 40.16h1.95v1.95h-1.95zM320.92 40.29h1.95v1.95h-1.95zM323.43 40.20h1.95v1.95h-1.95zM326.59 40.26h1.95v1.95h-1.95zM294.39 42.96h1.95v1.95h-1.95zM297.29 42.85h1.95v1.95h-1.95zM300.37 43.11h1.95v1.95h-1.95zM302.95 42.87h1.95v1.95h-1.95zM305.98 42.84h1.95v1.95h-1.95zM308.67 43.17h1.95v1.95h-1.95zM311.47 43.16h1.95v1.95h-1.95zM314.47 43.17h1.95v1.95h-1.95zM317.49 42.95h1.95v1.95h-1.95zM320.29 42.82h1.95v1.95h-1.95zM323.02 42.79h1.95v1.95h-1.95zM326.07 43.05h1.95v1.95h-1.95zM328.77 43.03h1.95v1.95h-1.95zM299.68 45.58h1.95v1.95h-1.95zM302.50 45.82h1.95v1.95h-1.95zM305.37 45.75h1.95v1.95h-1.95zM308.21 45.62h1.95v1.95h-1.95zM311.29 45.83h1.95v1.95h-1.95zM314.13 45.80h1.95v1.95h-1.95zM316.78 45.65h1.95v1.95h-1.95zM319.45 45.69h1.95v1.95h-1.95zM322.61 45.78h1.95v1.95h-1.95zM325.23 45.69h1.95v1.95h-1.95zM291.08 50.57h1.95v1.95h-1.95zM294.04 50.70h1.95v1.95h-1.95zM296.88 50.64h1.95v1.95h-1.95zM299.64 50.71h1.95v1.95h-1.95zM302.52 50.39h1.95v1.95h-1.95zM305.57 50.53h1.95v1.95h-1.95zM308.24 50.54h1.95v1.95h-1.95zM311.06 50.58h1.95v1.95h-1.95zM313.91 50.49h1.95v1.95h-1.95zM316.61 50.60h1.95v1.95h-1.95zM319.73 50.37h1.95v1.95h-1.95zM322.38 50.35h1.95v1.95h-1.95zM325.25 50.33h1.95v1.95h-1.95zM328.11 50.60h1.95v1.95h-1.95zM330.88 50.41h1.95v1.95h-1.95zM333.97 50.70h1.95v1.95h-1.95zM291.11 52.86h1.95v1.95h-1.95zM293.90 52.86h1.95v1.95h-1.95zM296.94 53.10h1.95v1.95h-1.95zM299.63 53.00h1.95v1.95h-1.95zM302.73 52.92h1.95v1.95h-1.95zM305.51 53.10h1.95v1.95h-1.95zM308.10 52.99h1.95v1.95h-1.95zM311.22 52.92h1.95v1.95h-1.95zM313.78 52.93h1.95v1.95h-1.95zM316.71 52.85h1.95v1.95h-1.95zM322.34 52.87h1.95v1.95h-1.95zM325.29 52.95h1.95v1.95h-1.95zM328.23 52.92h1.95v1.95h-1.95zM331.18 52.80h1.95v1.95h-1.95zM334.01 53.14h1.95v1.95h-1.95zM291.24 55.28h1.95v1.95h-1.95zM294.02 55.23h1.95v1.95h-1.95zM299.73 55.33h1.95v1.95h-1.95zM302.32 55.32h1.95v1.95h-1.95zM305.27 55.29h1.95v1.95h-1.95zM308.35 55.29h1.95v1.95h-1.95zM311.10 55.54h1.95v1.95h-1.95zM314.10 55.54h1.95v1.95h-1.95zM316.60 55.50h1.95v1.95h-1.95zM319.72 55.40h1.95v1.95h-1.95zM322.48 55.33h1.95v1.95h-1.95zM325.12 55.42h1.95v1.95h-1.95zM328.13 55.28h1.95v1.95h-1.95zM331.00 55.44h1.95v1.95h-1.95zM334.03 55.23h1.95v1.95h-1.95zM291.57 58.11h1.95v1.95h-1.95zM294.33 58.26h1.95v1.95h-1.95zM297.06 58.31h1.95v1.95h-1.95zM300.02 58.18h1.95v1.95h-1.95zM302.85 58.20h1.95v1.95h-1.95zM305.57 58.32h1.95v1.95h-1.95zM308.49 58.28h1.95v1.95h-1.95zM311.46 58.18h1.95v1.95h-1.95zM314.38 58.07h1.95v1.95h-1.95zM317.06 58.23h1.95v1.95h-1.95zM319.87 58.09h1.95v1.95h-1.95zM322.91 58.04h1.95v1.95h-1.95zM325.55 58.13h1.95v1.95h-1.95zM328.45 58.31h1.95v1.95h-1.95zM331.45 58.06h1.95v1.95h-1.95zM334.06 58.04h1.95v1.95h-1.95zM297.74 60.88h1.95v1.95h-1.95zM300.32 60.91h1.95v1.95h-1.95zM303.42 60.64h1.95v1.95h-1.95zM306.00 60.70h1.95v1.95h-1.95zM309.15 60.89h1.95v1.95h-1.95zM312.15 60.87h1.95v1.95h-1.95zM314.86 60.90h1.95v1.95h-1.95zM317.74 60.71h1.95v1.95h-1.95zM320.48 60.93h1.95v1.95h-1.95zM323.19 60.64h1.95v1.95h-1.95zM326.41 60.89h1.95v1.95h-1.95zM328.98 60.95h1.95v1.95h-1.95zM291.54 64.15h1.95v1.95h-1.95zM294.15 64.09h1.95v1.95h-1.95zM297.07 64.18h1.95v1.95h-1.95zM299.73 64.15h1.95v1.95h-1.95zM302.61 64.25h1.95v1.95h-1.95zM305.86 64.10h1.95v1.95h-1.95zM311.40 64.30h1.95v1.95h-1.95zM314.19 64.09h1.95v1.95h-1.95zM317.12 64.01h1.95v1.95h-1.95zM319.66 63.93h1.95v1.95h-1.95zM322.56 64.31h1.95v1.95h-1.95zM325.78 63.98h1.95v1.95h-1.95zM331.17 64.22h1.95v1.95h-1.95zM333.99 63.95h1.95v1.95h-1.95zM301.56 67.01h1.95v1.95h-1.95zM304.39 66.76h1.95v1.95h-1.95zM307.23 66.91h1.95v1.95h-1.95zM309.85 67.11h1.95v1.95h-1.95zM312.58 66.73h1.95v1.95h-1.95zM315.83 66.76h1.95v1.95h-1.95zM318.64 66.79h1.95v1.95h-1.95zM321.37 66.75h1.95v1.95h-1.95zM324.16 66.95h1.95v1.95h-1.95zM291.37 70.30h1.95v1.95h-1.95zM294.40 70.17h1.95v1.95h-1.95zM297.16 70.19h1.95v1.95h-1.95zM300.09 70.40h1.95v1.95h-1.95zM302.83 70.14h1.95v1.95h-1.95zM305.89 70.31h1.95v1.95h-1.95zM308.42 70.27h1.95v1.95h-1.95zM311.52 70.27h1.95v1.95h-1.95zM314.16 70.38h1.95v1.95h-1.95zM317.14 70.27h1.95v1.95h-1.95zM320.05 70.14h1.95v1.95h-1.95zM325.56 70.26h1.95v1.95h-1.95zM328.64 70.04h1.95v1.95h-1.95zM331.46 70.37h1.95v1.95h-1.95zM334.19 70.13h1.95v1.95h-1.95zM297.53 72.55h1.95v1.95h-1.95zM300.41 72.36h1.95v1.95h-1.95zM303.08 72.54h1.95v1.95h-1.95zM306.03 72.60h1.95v1.95h-1.95zM308.80 72.50h1.95v1.95h-1.95zM311.45 72.33h1.95v1.95h-1.95zM314.60 72.41h1.95v1.95h-1.95zM317.45 72.53h1.95v1.95h-1.95zM320.19 72.58h1.95v1.95h-1.95zM323.01 72.42h1.95v1.95h-1.95zM325.69 72.30h1.95v1.95h-1.95zM328.54 72.51h1.95v1.95h-1.95zM307.56 75.15h1.95v1.95h-1.95zM310.48 74.98h1.95v1.95h-1.95zM313.57 75.07h1.95v1.95h-1.95zM316.24 75.24h1.95v1.95h-1.95zM318.85 75.16h1.95v1.95h-1.95zM307.32 77.83h1.95v1.95h-1.95zM310.01 77.64h1.95v1.95h-1.95zM313.35 77.97h1.95v1.95h-1.95zM315.94 77.85h1.95v1.95h-1.95zM309.06 80.74h1.95v1.95h-1.95zM311.99 80.80h1.95v1.95h-1.95zM315.01 80.75h1.95v1.95h-1.95zM419.50 50.20h1.8v1.8h-1.8zM413.80 56.10h1.8v1.8h-1.8zM416.60 54.80h1.8v1.8h-1.8zM419.30 56.70h1.8v1.8h-1.8zM422.10 58.10h1.8v1.8h-1.8zM424.80 56.40h1.8v1.8h-1.8zM416.60 60.30h1.8v1.8h-1.8zM419.30 61.40h1.8v1.8h-1.8zM417.10 63.10h1.8v1.8h-1.8zM419.90 64.30h1.8v1.8h-1.8zM422.50 64.60h1.8v1.8h-1.8zM419.10 99.60h1.8v1.8h-1.8zM405.36 65.10h1.8v1.8h-1.8zM410.67 65.03h1.8v1.8h-1.8zM416.71 65.18h1.8v1.8h-1.8zM419.58 65.03h1.8v1.8h-1.8zM422.17 65.05h1.8v1.8h-1.8zM424.95 65.23h1.8v1.8h-1.8zM428.15 65.27h1.8v1.8h-1.8zM430.72 65.18h1.8v1.8h-1.8zM403.83 67.59h1.8v1.8h-1.8zM406.71 67.22h1.8v1.8h-1.8zM409.63 67.56h1.8v1.8h-1.8zM412.72 67.22h1.8v1.8h-1.8zM415.50 67.46h1.8v1.8h-1.8zM418.03 67.26h1.8v1.8h-1.8zM421.32 67.47h1.8v1.8h-1.8zM424.00 67.50h1.8v1.8h-1.8zM426.71 67.30h1.8v1.8h-1.8zM429.64 67.27h1.8v1.8h-1.8zM432.37 67.26h1.8v1.8h-1.8zM398.01 73.81h1.8v1.8h-1.8zM400.62 73.81h1.8v1.8h-1.8zM403.49 74.17h1.8v1.8h-1.8zM406.67 73.86h1.8v1.8h-1.8zM409.12 74.17h1.8v1.8h-1.8zM412.24 73.98h1.8v1.8h-1.8zM415.19 73.99h1.8v1.8h-1.8zM417.70 73.89h1.8v1.8h-1.8zM423.60 73.86h1.8v1.8h-1.8zM426.31 73.96h1.8v1.8h-1.8zM429.16 74.14h1.8v1.8h-1.8zM431.96 74.00h1.8v1.8h-1.8zM435.18 73.85h1.8v1.8h-1.8zM437.60 74.16h1.8v1.8h-1.8zM440.76 73.88h1.8v1.8h-1.8zM397.91 76.59h1.8v1.8h-1.8zM400.63 76.62h1.8v1.8h-1.8zM403.87 76.85h1.8v1.8h-1.8zM406.37 76.84h1.8v1.8h-1.8zM412.07 76.87h1.8v1.8h-1.8zM417.80 76.53h1.8v1.8h-1.8zM423.59 76.55h1.8v1.8h-1.8zM426.63 76.57h1.8v1.8h-1.8zM429.09 76.55h1.8v1.8h-1.8zM432.23 76.56h1.8v1.8h-1.8zM437.88 76.68h1.8v1.8h-1.8zM440.56 76.56h1.8v1.8h-1.8zM397.98 79.44h1.8v1.8h-1.8zM400.82 79.24h1.8v1.8h-1.8zM406.43 79.44h1.8v1.8h-1.8zM412.09 79.49h1.8v1.8h-1.8zM415.02 79.16h1.8v1.8h-1.8zM417.86 79.50h1.8v1.8h-1.8zM420.57 79.49h1.8v1.8h-1.8zM423.41 79.30h1.8v1.8h-1.8zM426.18 79.36h1.8v1.8h-1.8zM429.28 79.20h1.8v1.8h-1.8zM432.28 79.50h1.8v1.8h-1.8zM435.08 79.31h1.8v1.8h-1.8zM437.61 79.50h1.8v1.8h-1.8zM440.90 79.35h1.8v1.8h-1.8zM397.93 82.05h1.8v1.8h-1.8zM400.54 82.22h1.8v1.8h-1.8zM403.47 81.87h1.8v1.8h-1.8zM406.63 81.85h1.8v1.8h-1.8zM409.42 81.91h1.8v1.8h-1.8zM415.06 82.04h1.8v1.8h-1.8zM417.68 82.18h1.8v1.8h-1.8zM420.50 81.88h1.8v1.8h-1.8zM423.58 81.95h1.8v1.8h-1.8zM426.38 81.89h1.8v1.8h-1.8zM429.46 81.89h1.8v1.8h-1.8zM432.25 81.90h1.8v1.8h-1.8zM435.19 81.99h1.8v1.8h-1.8zM437.99 82.04h1.8v1.8h-1.8zM440.62 82.21h1.8v1.8h-1.8zM401.45 84.65h1.8v1.8h-1.8zM404.08 84.69h1.8v1.8h-1.8zM407.16 84.88h1.8v1.8h-1.8zM410.03 84.53h1.8v1.8h-1.8zM412.94 84.88h1.8v1.8h-1.8zM415.52 84.76h1.8v1.8h-1.8zM418.43 84.54h1.8v1.8h-1.8zM421.26 84.52h1.8v1.8h-1.8zM424.35 84.82h1.8v1.8h-1.8zM427.03 84.83h1.8v1.8h-1.8zM430.00 84.52h1.8v1.8h-1.8zM432.54 84.78h1.8v1.8h-1.8zM435.53 84.88h1.8v1.8h-1.8zM438.42 84.61h1.8v1.8h-1.8zM402.78 87.36h1.8v1.8h-1.8zM405.51 87.31h1.8v1.8h-1.8zM408.28 87.43h1.8v1.8h-1.8zM411.32 87.30h1.8v1.8h-1.8zM414.18 87.25h1.8v1.8h-1.8zM416.83 87.31h1.8v1.8h-1.8zM419.76 87.29h1.8v1.8h-1.8zM422.74 87.52h1.8v1.8h-1.8zM425.60 87.45h1.8v1.8h-1.8zM428.52 87.37h1.8v1.8h-1.8zM431.32 87.38h1.8v1.8h-1.8zM434.02 87.29h1.8v1.8h-1.8zM407.18 90.07h1.8v1.8h-1.8zM410.21 89.87h1.8v1.8h-1.8zM413.20 89.96h1.8v1.8h-1.8zM415.86 89.98h1.8v1.8h-1.8zM418.61 90.18h1.8v1.8h-1.8zM421.35 90.22h1.8v1.8h-1.8zM424.20 90.02h1.8v1.8h-1.8zM427.38 89.91h1.8v1.8h-1.8zM429.98 90.25h1.8v1.8h-1.8zM410.33 92.61h1.8v1.8h-1.8zM412.98 92.81h1.8v1.8h-1.8zM416.08 92.87h1.8v1.8h-1.8zM418.88 92.84h1.8v1.8h-1.8zM421.60 92.86h1.8v1.8h-1.8zM424.67 92.60h1.8v1.8h-1.8zM427.49 92.55h1.8v1.8h-1.8zM413.05 95.46h1.8v1.8h-1.8zM416.00 95.45h1.8v1.8h-1.8zM418.76 95.57h1.8v1.8h-1.8zM421.41 95.40h1.8v1.8h-1.8zM424.30 95.51h1.8v1.8h-1.8zM416.15 98.06h1.8v1.8h-1.8zM419.13 98.05h1.8v1.8h-1.8zM421.86 98.21h1.8v1.8h-1.8zM484.62 36.12h1.95v1.95h-1.95zM487.52 35.02h1.95v1.95h-1.95zM481.82 46.42h1.95v1.95h-1.95zM484.62 47.52h1.95v1.95h-1.95zM484.62 50.82h1.95v1.95h-1.95zM487.52 50.42h1.95v1.95h-1.95zM479.32 55.52h1.95v1.95h-1.95zM482.02 55.52h1.95v1.95h-1.95zM486.42 55.52h1.95v1.95h-1.95zM484.62 99.62h1.95v1.95h-1.95zM484.62 102.03h1.95v1.95h-1.95zM475.65 58.92h1.95v1.95h-1.95zM478.17 58.85h1.95v1.95h-1.95zM481.21 58.96h1.95v1.95h-1.95zM484.24 58.85h1.95v1.95h-1.95zM487.04 59.11h1.95v1.95h-1.95zM489.69 59.09h1.95v1.95h-1.95zM492.33 58.74h1.95v1.95h-1.95zM473.66 62.22h1.95v1.95h-1.95zM476.61 62.24h1.95v1.95h-1.95zM479.33 62.23h1.95v1.95h-1.95zM482.12 62.17h1.95v1.95h-1.95zM484.95 62.40h1.95v1.95h-1.95zM487.89 62.06h1.95v1.95h-1.95zM490.68 62.25h1.95v1.95h-1.95zM493.76 62.41h1.95v1.95h-1.95zM496.42 62.20h1.95v1.95h-1.95zM464.01 65.05h1.95v1.95h-1.95zM466.81 64.97h1.95v1.95h-1.95zM469.56 65.04h1.95v1.95h-1.95zM472.50 64.69h1.95v1.95h-1.95zM475.44 64.98h1.95v1.95h-1.95zM478.39 64.82h1.95v1.95h-1.95zM480.94 64.85h1.95v1.95h-1.95zM483.74 64.72h1.95v1.95h-1.95zM486.80 64.79h1.95v1.95h-1.95zM489.67 64.67h1.95v1.95h-1.95zM492.59 64.77h1.95v1.95h-1.95zM495.05 64.77h1.95v1.95h-1.95zM498.19 64.92h1.95v1.95h-1.95zM501.00 64.87h1.95v1.95h-1.95zM503.92 64.86h1.95v1.95h-1.95zM506.95 64.88h1.95v1.95h-1.95zM463.85 67.32h1.95v1.95h-1.95zM466.87 67.31h1.95v1.95h-1.95zM469.43 67.48h1.95v1.95h-1.95zM472.50 67.59h1.95v1.95h-1.95zM475.05 67.58h1.95v1.95h-1.95zM478.25 67.41h1.95v1.95h-1.95zM480.87 67.31h1.95v1.95h-1.95zM483.88 67.41h1.95v1.95h-1.95zM486.63 67.29h1.95v1.95h-1.95zM489.58 67.65h1.95v1.95h-1.95zM492.45 67.37h1.95v1.95h-1.95zM495.46 67.61h1.95v1.95h-1.95zM498.29 67.60h1.95v1.95h-1.95zM500.99 67.66h1.95v1.95h-1.95zM504.01 67.37h1.95v1.95h-1.95zM506.58 67.56h1.95v1.95h-1.95zM463.69 70.02h1.95v1.95h-1.95zM466.67 70.21h1.95v1.95h-1.95zM469.37 70.04h1.95v1.95h-1.95zM472.62 70.01h1.95v1.95h-1.95zM475.04 70.11h1.95v1.95h-1.95zM478.03 69.92h1.95v1.95h-1.95zM481.10 70.03h1.95v1.95h-1.95zM483.63 70.01h1.95v1.95h-1.95zM486.40 70.16h1.95v1.95h-1.95zM489.31 70.18h1.95v1.95h-1.95zM492.22 70.23h1.95v1.95h-1.95zM495.15 70.23h1.95v1.95h-1.95zM497.86 70.04h1.95v1.95h-1.95zM500.82 70.28h1.95v1.95h-1.95zM503.96 70.10h1.95v1.95h-1.95zM506.45 70.08h1.95v1.95h-1.95zM463.59 72.80h1.95v1.95h-1.95zM466.82 72.75h1.95v1.95h-1.95zM469.35 72.76h1.95v1.95h-1.95zM472.51 72.57h1.95v1.95h-1.95zM475.20 72.63h1.95v1.95h-1.95zM477.97 72.78h1.95v1.95h-1.95zM480.78 72.67h1.95v1.95h-1.95zM483.56 72.86h1.95v1.95h-1.95zM486.66 72.56h1.95v1.95h-1.95zM489.36 72.72h1.95v1.95h-1.95zM492.06 72.64h1.95v1.95h-1.95zM494.94 72.80h1.95v1.95h-1.95zM497.93 72.88h1.95v1.95h-1.95zM501.02 72.86h1.95v1.95h-1.95zM503.56 72.53h1.95v1.95h-1.95zM506.61 72.78h1.95v1.95h-1.95zM463.64 75.31h1.95v1.95h-1.95zM466.67 75.24h1.95v1.95h-1.95zM469.34 75.39h1.95v1.95h-1.95zM472.08 75.51h1.95v1.95h-1.95zM475.22 75.16h1.95v1.95h-1.95zM477.80 75.22h1.95v1.95h-1.95zM480.76 75.16h1.95v1.95h-1.95zM483.74 75.21h1.95v1.95h-1.95zM486.55 75.43h1.95v1.95h-1.95zM489.34 75.41h1.95v1.95h-1.95zM491.97 75.47h1.95v1.95h-1.95zM494.96 75.16h1.95v1.95h-1.95zM497.97 75.16h1.95v1.95h-1.95zM500.57 75.46h1.95v1.95h-1.95zM503.82 75.44h1.95v1.95h-1.95zM506.26 75.42h1.95v1.95h-1.95zM463.61 78.06h1.95v1.95h-1.95zM466.40 77.80h1.95v1.95h-1.95zM469.32 78.14h1.95v1.95h-1.95zM472.33 78.10h1.95v1.95h-1.95zM475.04 77.79h1.95v1.95h-1.95zM477.87 77.97h1.95v1.95h-1.95zM480.57 78.07h1.95v1.95h-1.95zM483.71 78.09h1.95v1.95h-1.95zM486.48 78.15h1.95v1.95h-1.95zM489.33 77.86h1.95v1.95h-1.95zM492.09 77.93h1.95v1.95h-1.95zM494.92 77.82h1.95v1.95h-1.95zM497.95 77.86h1.95v1.95h-1.95zM500.72 77.94h1.95v1.95h-1.95zM503.49 77.88h1.95v1.95h-1.95zM506.60 77.82h1.95v1.95h-1.95zM463.59 80.52h1.95v1.95h-1.95zM466.43 80.69h1.95v1.95h-1.95zM469.34 80.63h1.95v1.95h-1.95zM472.24 80.72h1.95v1.95h-1.95zM474.85 80.53h1.95v1.95h-1.95zM477.59 80.50h1.95v1.95h-1.95zM480.76 80.57h1.95v1.95h-1.95zM483.42 80.57h1.95v1.95h-1.95zM486.19 80.42h1.95v1.95h-1.95zM492.18 80.42h1.95v1.95h-1.95zM495.15 80.61h1.95v1.95h-1.95zM497.75 80.56h1.95v1.95h-1.95zM500.63 80.39h1.95v1.95h-1.95zM503.53 80.64h1.95v1.95h-1.95zM506.52 80.65h1.95v1.95h-1.95zM464.80 83.11h1.95v1.95h-1.95zM467.54 83.32h1.95v1.95h-1.95zM470.52 83.08h1.95v1.95h-1.95zM473.65 83.38h1.95v1.95h-1.95zM476.47 83.34h1.95v1.95h-1.95zM479.09 83.08h1.95v1.95h-1.95zM481.93 83.16h1.95v1.95h-1.95zM484.81 83.34h1.95v1.95h-1.95zM487.50 83.24h1.95v1.95h-1.95zM490.73 83.29h1.95v1.95h-1.95zM493.65 83.21h1.95v1.95h-1.95zM496.10 83.13h1.95v1.95h-1.95zM498.91 83.28h1.95v1.95h-1.95zM501.95 83.40h1.95v1.95h-1.95zM504.62 83.03h1.95v1.95h-1.95zM467.19 85.71h1.95v1.95h-1.95zM469.83 85.97h1.95v1.95h-1.95zM473.07 85.80h1.95v1.95h-1.95zM475.86 85.84h1.95v1.95h-1.95zM478.54 85.81h1.95v1.95h-1.95zM481.64 85.99h1.95v1.95h-1.95zM484.22 85.81h1.95v1.95h-1.95zM487.10 85.71h1.95v1.95h-1.95zM489.94 85.82h1.95v1.95h-1.95zM493.08 85.98h1.95v1.95h-1.95zM495.96 85.88h1.95v1.95h-1.95zM498.36 85.90h1.95v1.95h-1.95zM501.48 85.75h1.95v1.95h-1.95zM470.11 88.64h1.95v1.95h-1.95zM473.00 88.38h1.95v1.95h-1.95zM475.97 88.27h1.95v1.95h-1.95zM478.71 88.43h1.95v1.95h-1.95zM481.56 88.40h1.95v1.95h-1.95zM484.28 88.47h1.95v1.95h-1.95zM487.12 88.30h1.95v1.95h-1.95zM490.22 88.48h1.95v1.95h-1.95zM493.06 88.36h1.95v1.95h-1.95zM495.74 88.36h1.95v1.95h-1.95zM498.57 88.48h1.95v1.95h-1.95zM475.95 91.11h1.95v1.95h-1.95zM478.95 91.11h1.95v1.95h-1.95zM481.74 90.91h1.95v1.95h-1.95zM484.82 91.10h1.95v1.95h-1.95zM487.62 90.92h1.95v1.95h-1.95zM490.45 90.92h1.95v1.95h-1.95zM493.35 91.04h1.95v1.95h-1.95zM479.45 93.89h1.95v1.95h-1.95zM482.60 93.56h1.95v1.95h-1.95zM485.09 93.60h1.95v1.95h-1.95zM487.92 93.74h1.95v1.95h-1.95zM490.87 93.62h1.95v1.95h-1.95zM482.28 96.30h1.95v1.95h-1.95zM485.22 96.37h1.95v1.95h-1.95zM488.06 96.35h1.95v1.95h-1.95zM72.30 182.20h1.8v1.8h-1.8zM71.80 185.40h1.8v1.8h-1.8zM74.50 185.40h1.8v1.8h-1.8zM69.00 188.30h1.8v1.8h-1.8zM71.80 188.30h1.8v1.8h-1.8zM72.30 225.30h1.8v1.8h-1.8zM75.10 227.90h1.8v1.8h-1.8zM72.10 230.70h1.8v1.8h-1.8zM61.16 190.25h1.8v1.8h-1.8zM63.92 190.04h1.8v1.8h-1.8zM66.74 190.23h1.8v1.8h-1.8zM69.44 190.19h1.8v1.8h-1.8zM72.46 189.92h1.8v1.8h-1.8zM75.00 190.12h1.8v1.8h-1.8zM77.86 190.27h1.8v1.8h-1.8zM80.78 189.98h1.8v1.8h-1.8zM83.72 190.24h1.8v1.8h-1.8zM51.29 192.65h1.8v1.8h-1.8zM57.10 192.67h1.8v1.8h-1.8zM59.70 192.87h1.8v1.8h-1.8zM62.47 192.95h1.8v1.8h-1.8zM65.59 192.92h1.8v1.8h-1.8zM68.11 192.74h1.8v1.8h-1.8zM71.20 192.95h1.8v1.8h-1.8zM73.82 192.67h1.8v1.8h-1.8zM76.99 192.76h1.8v1.8h-1.8zM79.58 192.94h1.8v1.8h-1.8zM82.79 192.84h1.8v1.8h-1.8zM88.16 192.96h1.8v1.8h-1.8zM91.19 192.62h1.8v1.8h-1.8zM54.41 195.44h1.8v1.8h-1.8zM57.46 195.46h1.8v1.8h-1.8zM60.03 195.53h1.8v1.8h-1.8zM62.89 195.48h1.8v1.8h-1.8zM65.75 195.36h1.8v1.8h-1.8zM68.71 195.41h1.8v1.8h-1.8zM71.56 195.53h1.8v1.8h-1.8zM74.75 195.70h1.8v1.8h-1.8zM80.36 195.65h1.8v1.8h-1.8zM83.14 195.55h1.8v1.8h-1.8zM85.82 195.62h1.8v1.8h-1.8zM88.99 195.57h1.8v1.8h-1.8zM91.53 195.61h1.8v1.8h-1.8zM52.22 201.70h1.8v1.8h-1.8zM54.88 201.72h1.8v1.8h-1.8zM57.58 201.63h1.8v1.8h-1.8zM60.89 201.69h1.8v1.8h-1.8zM63.37 201.59h1.8v1.8h-1.8zM66.17 201.50h1.8v1.8h-1.8zM69.18 201.68h1.8v1.8h-1.8zM71.95 201.57h1.8v1.8h-1.8zM77.65 201.79h1.8v1.8h-1.8zM80.82 201.64h1.8v1.8h-1.8zM83.49 201.53h1.8v1.8h-1.8zM86.34 201.89h1.8v1.8h-1.8zM89.29 201.67h1.8v1.8h-1.8zM92.18 201.53h1.8v1.8h-1.8zM52.69 204.58h1.8v1.8h-1.8zM55.42 204.23h1.8v1.8h-1.8zM58.28 204.51h1.8v1.8h-1.8zM61.20 204.31h1.8v1.8h-1.8zM64.28 204.48h1.8v1.8h-1.8zM67.06 204.61h1.8v1.8h-1.8zM69.59 204.55h1.8v1.8h-1.8zM72.57 204.28h1.8v1.8h-1.8zM75.51 204.58h1.8v1.8h-1.8zM78.56 204.31h1.8v1.8h-1.8zM81.32 204.48h1.8v1.8h-1.8zM84.14 204.36h1.8v1.8h-1.8zM89.52 204.48h1.8v1.8h-1.8zM92.51 204.42h1.8v1.8h-1.8zM53.20 207.05h1.8v1.8h-1.8zM55.76 207.32h1.8v1.8h-1.8zM59.09 206.97h1.8v1.8h-1.8zM61.81 207.08h1.8v1.8h-1.8zM64.38 207.01h1.8v1.8h-1.8zM67.19 207.28h1.8v1.8h-1.8zM70.27 207.19h1.8v1.8h-1.8zM73.18 207.19h1.8v1.8h-1.8zM76.07 207.05h1.8v1.8h-1.8zM78.93 207.26h1.8v1.8h-1.8zM81.79 207.34h1.8v1.8h-1.8zM84.39 207.16h1.8v1.8h-1.8zM87.17 206.95h1.8v1.8h-1.8zM90.28 207.26h1.8v1.8h-1.8zM92.98 207.35h1.8v1.8h-1.8zM53.01 209.98h1.8v1.8h-1.8zM55.76 209.73h1.8v1.8h-1.8zM61.73 209.75h1.8v1.8h-1.8zM64.48 209.73h1.8v1.8h-1.8zM67.52 210.04h1.8v1.8h-1.8zM70.01 209.99h1.8v1.8h-1.8zM73.34 209.87h1.8v1.8h-1.8zM75.87 210.00h1.8v1.8h-1.8zM78.71 210.04h1.8v1.8h-1.8zM81.77 209.70h1.8v1.8h-1.8zM84.45 210.02h1.8v1.8h-1.8zM90.15 210.04h1.8v1.8h-1.8zM93.27 209.93h1.8v1.8h-1.8zM52.99 212.50h1.8v1.8h-1.8zM55.94 212.49h1.8v1.8h-1.8zM58.96 212.66h1.8v1.8h-1.8zM61.92 212.49h1.8v1.8h-1.8zM64.36 212.75h1.8v1.8h-1.8zM67.26 212.70h1.8v1.8h-1.8zM70.12 212.53h1.8v1.8h-1.8zM73.27 212.46h1.8v1.8h-1.8zM75.98 212.58h1.8v1.8h-1.8zM78.97 212.48h1.8v1.8h-1.8zM81.56 212.71h1.8v1.8h-1.8zM84.32 212.75h1.8v1.8h-1.8zM87.23 212.41h1.8v1.8h-1.8zM90.41 212.40h1.8v1.8h-1.8zM93.23 212.46h1.8v1.8h-1.8zM56.90 215.16h1.8v1.8h-1.8zM59.72 215.16h1.8v1.8h-1.8zM62.69 215.41h1.8v1.8h-1.8zM65.57 215.14h1.8v1.8h-1.8zM68.33 215.40h1.8v1.8h-1.8zM73.75 215.30h1.8v1.8h-1.8zM76.49 215.52h1.8v1.8h-1.8zM79.77 215.17h1.8v1.8h-1.8zM82.25 215.30h1.8v1.8h-1.8zM85.38 215.18h1.8v1.8h-1.8zM88.25 215.33h1.8v1.8h-1.8zM59.29 217.99h1.8v1.8h-1.8zM62.54 217.99h1.8v1.8h-1.8zM65.42 218.20h1.8v1.8h-1.8zM67.92 217.92h1.8v1.8h-1.8zM70.67 217.87h1.8v1.8h-1.8zM73.69 218.07h1.8v1.8h-1.8zM76.34 218.13h1.8v1.8h-1.8zM79.46 218.07h1.8v1.8h-1.8zM82.52 218.20h1.8v1.8h-1.8zM85.24 218.01h1.8v1.8h-1.8zM64.11 220.74h1.8v1.8h-1.8zM66.99 220.73h1.8v1.8h-1.8zM69.72 220.97h1.8v1.8h-1.8zM75.81 220.68h1.8v1.8h-1.8zM78.39 220.67h1.8v1.8h-1.8zM81.15 220.62h1.8v1.8h-1.8zM67.75 223.61h1.8v1.8h-1.8zM70.63 223.32h1.8v1.8h-1.8zM73.37 223.43h1.8v1.8h-1.8zM76.20 223.52h1.8v1.8h-1.8zM137.53 157.43h1.95v1.95h-1.95zM137.33 170.12h1.95v1.95h-1.95zM134.62 171.93h1.95v1.95h-1.95zM137.33 171.93h1.95v1.95h-1.95zM134.62 174.43h1.95v1.95h-1.95zM137.33 174.43h1.95v1.95h-1.95zM140.12 174.83h1.95v1.95h-1.95zM142.83 174.62h1.95v1.95h-1.95zM137.33 177.03h1.95v1.95h-1.95zM140.12 177.03h1.95v1.95h-1.95zM142.83 177.33h1.95v1.95h-1.95zM131.86 179.31h1.95v1.95h-1.95zM134.55 179.22h1.95v1.95h-1.95zM137.83 179.13h1.95v1.95h-1.95zM140.55 179.32h1.95v1.95h-1.95zM125.89 182.48h1.95v1.95h-1.95zM128.81 182.51h1.95v1.95h-1.95zM131.74 182.47h1.95v1.95h-1.95zM134.49 182.48h1.95v1.95h-1.95zM137.29 182.47h1.95v1.95h-1.95zM140.48 182.41h1.95v1.95h-1.95zM143.14 182.42h1.95v1.95h-1.95zM145.80 182.60h1.95v1.95h-1.95zM148.84 182.43h1.95v1.95h-1.95zM115.96 186.75h1.95v1.95h-1.95zM118.64 186.75h1.95v1.95h-1.95zM121.72 186.76h1.95v1.95h-1.95zM124.68 186.44h1.95v1.95h-1.95zM127.52 186.75h1.95v1.95h-1.95zM130.03 186.53h1.95v1.95h-1.95zM132.98 186.75h1.95v1.95h-1.95zM135.88 186.46h1.95v1.95h-1.95zM139.00 186.70h1.95v1.95h-1.95zM141.59 186.74h1.95v1.95h-1.95zM144.27 186.70h1.95v1.95h-1.95zM147.31 186.52h1.95v1.95h-1.95zM150.07 186.58h1.95v1.95h-1.95zM155.89 186.45h1.95v1.95h-1.95zM158.54 186.71h1.95v1.95h-1.95zM115.84 189.21h1.95v1.95h-1.95zM118.97 189.12h1.95v1.95h-1.95zM121.83 189.16h1.95v1.95h-1.95zM124.65 189.33h1.95v1.95h-1.95zM127.12 189.26h1.95v1.95h-1.95zM130.31 189.20h1.95v1.95h-1.95zM133.12 189.41h1.95v1.95h-1.95zM135.84 189.31h1.95v1.95h-1.95zM138.60 189.47h1.95v1.95h-1.95zM141.54 189.35h1.95v1.95h-1.95zM144.24 189.38h1.95v1.95h-1.95zM147.31 189.28h1.95v1.95h-1.95zM150.28 189.09h1.95v1.95h-1.95zM152.98 189.27h1.95v1.95h-1.95zM155.81 189.27h1.95v1.95h-1.95zM158.90 189.26h1.95v1.95h-1.95zM115.95 191.94h1.95v1.95h-1.95zM118.89 192.04h1.95v1.95h-1.95zM121.42 192.01h1.95v1.95h-1.95zM124.63 192.05h1.95v1.95h-1.95zM127.21 191.77h1.95v1.95h-1.95zM130.00 191.77h1.95v1.95h-1.95zM133.08 191.76h1.95v1.95h-1.95zM136.01 191.93h1.95v1.95h-1.95zM138.85 191.91h1.95v1.95h-1.95zM141.85 192.07h1.95v1.95h-1.95zM144.27 191.87h1.95v1.95h-1.95zM147.05 192.13h1.95v1.95h-1.95zM150.03 191.86h1.95v1.95h-1.95zM153.18 191.96h1.95v1.95h-1.95zM155.81 191.76h1.95v1.95h-1.95zM158.60 192.09h1.95v1.95h-1.95zM116.10 194.74h1.95v1.95h-1.95zM118.65 194.42h1.95v1.95h-1.95zM121.59 194.58h1.95v1.95h-1.95zM124.54 194.54h1.95v1.95h-1.95zM127.20 194.76h1.95v1.95h-1.95zM129.98 194.52h1.95v1.95h-1.95zM133.00 194.62h1.95v1.95h-1.95zM135.79 194.71h1.95v1.95h-1.95zM138.86 194.72h1.95v1.95h-1.95zM141.58 194.77h1.95v1.95h-1.95zM144.64 194.42h1.95v1.95h-1.95zM147.37 194.42h1.95v1.95h-1.95zM149.94 194.63h1.95v1.95h-1.95zM153.21 194.62h1.95v1.95h-1.95zM155.85 194.67h1.95v1.95h-1.95zM158.79 194.51h1.95v1.95h-1.95zM115.81 197.39h1.95v1.95h-1.95zM119.01 197.14h1.95v1.95h-1.95zM121.45 197.37h1.95v1.95h-1.95zM124.46 197.32h1.95v1.95h-1.95zM127.55 197.33h1.95v1.95h-1.95zM129.98 197.33h1.95v1.95h-1.95zM133.22 197.17h1.95v1.95h-1.95zM135.94 197.18h1.95v1.95h-1.95zM138.58 197.42h1.95v1.95h-1.95zM141.77 197.11h1.95v1.95h-1.95zM144.69 197.21h1.95v1.95h-1.95zM147.24 197.31h1.95v1.95h-1.95zM150.17 197.09h1.95v1.95h-1.95zM153.11 197.23h1.95v1.95h-1.95zM155.66 197.38h1.95v1.95h-1.95zM158.51 197.42h1.95v1.95h-1.95zM116.16 200.09h1.95v1.95h-1.95zM118.66 199.85h1.95v1.95h-1.95zM121.61 200.08h1.95v1.95h-1.95zM124.46 200.06h1.95v1.95h-1.95zM127.33 199.75h1.95v1.95h-1.95zM130.05 200.07h1.95v1.95h-1.95zM132.88 200.08h1.95v1.95h-1.95zM135.91 200.10h1.95v1.95h-1.95zM138.94 199.97h1.95v1.95h-1.95zM141.48 199.89h1.95v1.95h-1.95zM144.54 199.78h1.95v1.95h-1.95zM147.16 199.74h1.95v1.95h-1.95zM149.91 199.93h1.95v1.95h-1.95zM153.01 199.90h1.95v1.95h-1.95zM155.82 199.75h1.95v1.95h-1.95zM158.74 199.76h1.95v1.95h-1.95zM117.23 202.51h1.95v1.95h-1.95zM120.13 202.43h1.95v1.95h-1.95zM123.12 202.50h1.95v1.95h-1.95zM125.93 202.56h1.95v1.95h-1.95zM128.39 202.72h1.95v1.95h-1.95zM131.44 202.58h1.95v1.95h-1.95zM134.28 202.43h1.95v1.95h-1.95zM137.15 202.51h1.95v1.95h-1.95zM139.95 202.45h1.95v1.95h-1.95zM142.71 202.72h1.95v1.95h-1.95zM145.89 202.37h1.95v1.95h-1.95zM148.54 202.68h1.95v1.95h-1.95zM151.49 202.46h1.95v1.95h-1.95zM154.07 202.47h1.95v1.95h-1.95zM156.86 202.53h1.95v1.95h-1.95zM119.84 205.14h1.95v1.95h-1.95zM122.47 205.26h1.95v1.95h-1.95zM125.57 205.34h1.95v1.95h-1.95zM128.16 205.12h1.95v1.95h-1.95zM131.47 205.04h1.95v1.95h-1.95zM134.17 205.35h1.95v1.95h-1.95zM137.08 205.21h1.95v1.95h-1.95zM139.53 205.40h1.95v1.95h-1.95zM142.58 205.06h1.95v1.95h-1.95zM145.59 205.30h1.95v1.95h-1.95zM148.25 205.08h1.95v1.95h-1.95zM151.04 205.16h1.95v1.95h-1.95zM154.26 205.42h1.95v1.95h-1.95zM123.36 207.87h1.95v1.95h-1.95zM126.20 208.05h1.95v1.95h-1.95zM128.98 207.76h1.95v1.95h-1.95zM131.94 208.00h1.95v1.95h-1.95zM134.72 207.82h1.95v1.95h-1.95zM137.70 207.95h1.95v1.95h-1.95zM140.13 208.01h1.95v1.95h-1.95zM143.37 207.98h1.95v1.95h-1.95zM146.17 207.92h1.95v1.95h-1.95zM149.03 208.00h1.95v1.95h-1.95zM151.90 207.80h1.95v1.95h-1.95zM125.26 210.55h1.95v1.95h-1.95zM127.69 210.73h1.95v1.95h-1.95zM130.61 210.67h1.95v1.95h-1.95zM133.43 210.52h1.95v1.95h-1.95zM136.43 210.70h1.95v1.95h-1.95zM139.39 210.50h1.95v1.95h-1.95zM142.28 210.61h1.95v1.95h-1.95zM145.14 210.50h1.95v1.95h-1.95zM147.91 210.67h1.95v1.95h-1.95zM150.60 210.58h1.95v1.95h-1.95zM127.49 213.31h1.95v1.95h-1.95zM132.78 213.04h1.95v1.95h-1.95zM135.84 213.24h1.95v1.95h-1.95zM138.64 213.08h1.95v1.95h-1.95zM141.75 213.24h1.95v1.95h-1.95zM144.22 213.10h1.95v1.95h-1.95zM147.38 213.17h1.95v1.95h-1.95zM128.59 215.98h1.95v1.95h-1.95zM131.45 215.67h1.95v1.95h-1.95zM134.05 215.76h1.95v1.95h-1.95zM136.99 215.74h1.95v1.95h-1.95zM139.96 216.01h1.95v1.95h-1.95zM142.76 216.04h1.95v1.95h-1.95zM145.61 216.05h1.95v1.95h-1.95zM129.41 218.64h1.95v1.95h-1.95zM132.42 218.31h1.95v1.95h-1.95zM135.48 218.49h1.95v1.95h-1.95zM137.99 218.45h1.95v1.95h-1.95zM140.99 218.66h1.95v1.95h-1.95zM143.82 218.46h1.95v1.95h-1.95zM132.96 221.33h1.95v1.95h-1.95zM135.68 221.00h1.95v1.95h-1.95zM138.50 221.15h1.95v1.95h-1.95zM141.52 221.11h1.95v1.95h-1.95zM136.43 223.88h1.95v1.95h-1.95zM139.14 223.83h1.95v1.95h-1.95zM244.10 169.50h1.8v1.8h-1.8zM246.90 170.80h1.8v1.8h-1.8zM244.10 178.70h1.8v1.8h-1.8zM246.90 179.10h1.8v1.8h-1.8zM249.60 178.70h1.8v1.8h-1.8zM252.40 178.30h1.8v1.8h-1.8zM241.90 181.80h1.8v1.8h-1.8zM244.70 182.10h1.8v1.8h-1.8zM247.40 182.60h1.8v1.8h-1.8zM250.10 182.10h1.8v1.8h-1.8zM252.90 180.50h1.8v1.8h-1.8zM247.10 218.20h1.8v1.8h-1.8zM247.10 224.20h1.8v1.8h-1.8zM250.00 223.10h1.8v1.8h-1.8zM234.71 184.46h1.8v1.8h-1.8zM237.41 184.49h1.8v1.8h-1.8zM243.27 184.32h1.8v1.8h-1.8zM246.15 184.46h1.8v1.8h-1.8zM249.00 184.11h1.8v1.8h-1.8zM251.54 184.48h1.8v1.8h-1.8zM254.40 184.34h1.8v1.8h-1.8zM257.20 184.26h1.8v1.8h-1.8zM260.40 184.36h1.8v1.8h-1.8zM227.04 189.60h1.8v1.8h-1.8zM230.02 189.47h1.8v1.8h-1.8zM232.92 189.62h1.8v1.8h-1.8zM235.64 189.69h1.8v1.8h-1.8zM238.65 189.41h1.8v1.8h-1.8zM241.44 189.63h1.8v1.8h-1.8zM244.17 189.36h1.8v1.8h-1.8zM247.29 189.36h1.8v1.8h-1.8zM249.79 189.42h1.8v1.8h-1.8zM255.59 189.69h1.8v1.8h-1.8zM258.34 189.42h1.8v1.8h-1.8zM261.20 189.43h1.8v1.8h-1.8zM264.00 189.40h1.8v1.8h-1.8zM267.00 189.45h1.8v1.8h-1.8zM230.04 192.03h1.8v1.8h-1.8zM232.86 192.10h1.8v1.8h-1.8zM235.57 192.23h1.8v1.8h-1.8zM238.18 192.22h1.8v1.8h-1.8zM241.23 192.19h1.8v1.8h-1.8zM243.94 192.07h1.8v1.8h-1.8zM246.92 192.04h1.8v1.8h-1.8zM249.63 192.23h1.8v1.8h-1.8zM255.49 192.06h1.8v1.8h-1.8zM258.19 192.02h1.8v1.8h-1.8zM264.03 192.22h1.8v1.8h-1.8zM230.43 194.71h1.8v1.8h-1.8zM232.99 194.66h1.8v1.8h-1.8zM236.27 194.79h1.8v1.8h-1.8zM239.03 194.70h1.8v1.8h-1.8zM241.86 194.68h1.8v1.8h-1.8zM244.74 194.68h1.8v1.8h-1.8zM247.62 194.75h1.8v1.8h-1.8zM250.37 194.90h1.8v1.8h-1.8zM253.06 194.57h1.8v1.8h-1.8zM255.99 194.88h1.8v1.8h-1.8zM258.88 194.70h1.8v1.8h-1.8zM261.57 194.88h1.8v1.8h-1.8zM264.68 194.88h1.8v1.8h-1.8zM225.85 197.43h1.8v1.8h-1.8zM228.88 197.52h1.8v1.8h-1.8zM231.85 197.49h1.8v1.8h-1.8zM234.77 197.21h1.8v1.8h-1.8zM237.53 197.40h1.8v1.8h-1.8zM240.06 197.40h1.8v1.8h-1.8zM243.01 197.25h1.8v1.8h-1.8zM245.77 197.43h1.8v1.8h-1.8zM248.98 197.30h1.8v1.8h-1.8zM251.46 197.50h1.8v1.8h-1.8zM254.28 197.41h1.8v1.8h-1.8zM257.27 197.18h1.8v1.8h-1.8zM260.26 197.48h1.8v1.8h-1.8zM265.73 197.25h1.8v1.8h-1.8zM268.84 197.30h1.8v1.8h-1.8zM225.94 200.01h1.8v1.8h-1.8zM229.02 199.86h1.8v1.8h-1.8zM231.88 199.99h1.8v1.8h-1.8zM237.19 199.98h1.8v1.8h-1.8zM240.06 200.03h1.8v1.8h-1.8zM243.17 199.94h1.8v1.8h-1.8zM246.02 199.87h1.8v1.8h-1.8zM249.07 200.10h1.8v1.8h-1.8zM251.59 200.17h1.8v1.8h-1.8zM257.19 199.96h1.8v1.8h-1.8zM260.33 199.96h1.8v1.8h-1.8zM262.92 199.94h1.8v1.8h-1.8zM265.77 200.07h1.8v1.8h-1.8zM268.78 199.96h1.8v1.8h-1.8zM225.87 202.68h1.8v1.8h-1.8zM228.76 202.62h1.8v1.8h-1.8zM231.96 202.70h1.8v1.8h-1.8zM234.78 202.69h1.8v1.8h-1.8zM237.21 202.48h1.8v1.8h-1.8zM243.24 202.65h1.8v1.8h-1.8zM245.90 202.47h1.8v1.8h-1.8zM249.07 202.52h1.8v1.8h-1.8zM254.45 202.76h1.8v1.8h-1.8zM257.35 202.44h1.8v1.8h-1.8zM260.05 202.71h1.8v1.8h-1.8zM263.32 202.76h1.8v1.8h-1.8zM265.91 202.73h1.8v1.8h-1.8zM268.59 202.44h1.8v1.8h-1.8zM228.50 205.22h1.8v1.8h-1.8zM231.19 205.03h1.8v1.8h-1.8zM234.27 205.40h1.8v1.8h-1.8zM236.98 205.31h1.8v1.8h-1.8zM240.02 205.36h1.8v1.8h-1.8zM242.47 205.11h1.8v1.8h-1.8zM245.50 205.02h1.8v1.8h-1.8zM248.56 205.21h1.8v1.8h-1.8zM254.13 205.05h1.8v1.8h-1.8zM257.03 205.37h1.8v1.8h-1.8zM259.88 205.10h1.8v1.8h-1.8zM262.87 205.17h1.8v1.8h-1.8zM265.32 205.26h1.8v1.8h-1.8zM231.04 207.72h1.8v1.8h-1.8zM234.12 207.89h1.8v1.8h-1.8zM236.89 207.67h1.8v1.8h-1.8zM239.55 207.83h1.8v1.8h-1.8zM242.71 207.93h1.8v1.8h-1.8zM245.55 207.92h1.8v1.8h-1.8zM248.15 208.00h1.8v1.8h-1.8zM250.96 207.74h1.8v1.8h-1.8zM253.89 207.80h1.8v1.8h-1.8zM257.04 207.89h1.8v1.8h-1.8zM259.49 207.68h1.8v1.8h-1.8zM262.81 207.96h1.8v1.8h-1.8zM236.13 210.28h1.8v1.8h-1.8zM239.42 210.35h1.8v1.8h-1.8zM242.27 210.52h1.8v1.8h-1.8zM244.79 210.32h1.8v1.8h-1.8zM250.41 210.65h1.8v1.8h-1.8zM253.30 210.58h1.8v1.8h-1.8zM256.31 210.30h1.8v1.8h-1.8zM259.30 210.62h1.8v1.8h-1.8zM242.92 212.88h1.8v1.8h-1.8zM245.74 213.10h1.8v1.8h-1.8zM248.58 213.08h1.8v1.8h-1.8zM251.33 213.12h1.8v1.8h-1.8zM245.82 215.53h1.8v1.8h-1.8zM248.30 215.72h1.8v1.8h-1.8zM312.82 156.72h1.95v1.95h-1.95zM310.02 161.12h1.95v1.95h-1.95zM312.82 161.93h1.95v1.95h-1.95zM310.02 168.93h1.95v1.95h-1.95zM312.82 169.22h1.95v1.95h-1.95zM315.52 168.93h1.95v1.95h-1.95zM318.32 168.22h1.95v1.95h-1.95zM307.32 170.93h1.95v1.95h-1.95zM310.02 171.22h1.95v1.95h-1.95zM312.82 171.43h1.95v1.95h-1.95zM315.52 171.22h1.95v1.95h-1.95zM307.32 173.83h1.95v1.95h-1.95zM310.02 174.03h1.95v1.95h-1.95zM312.82 173.22h1.95v1.95h-1.95zM315.52 173.83h1.95v1.95h-1.95zM318.32 174.03h1.95v1.95h-1.95zM320.42 174.33h1.95v1.95h-1.95zM310.02 208.22h1.95v1.95h-1.95zM312.82 208.22h1.95v1.95h-1.95zM315.52 209.62h1.95v1.95h-1.95zM312.82 210.72h1.95v1.95h-1.95zM310.02 215.22h1.95v1.95h-1.95zM312.82 215.53h1.95v1.95h-1.95zM312.82 222.62h1.95v1.95h-1.95zM299.62 176.08h1.95v1.95h-1.95zM305.19 176.26h1.95v1.95h-1.95zM308.25 175.97h1.95v1.95h-1.95zM310.98 176.10h1.95v1.95h-1.95zM314.21 176.14h1.95v1.95h-1.95zM316.62 176.22h1.95v1.95h-1.95zM319.85 175.97h1.95v1.95h-1.95zM322.46 176.05h1.95v1.95h-1.95zM300.46 180.38h1.95v1.95h-1.95zM303.41 180.63h1.95v1.95h-1.95zM308.68 180.60h1.95v1.95h-1.95zM311.74 180.51h1.95v1.95h-1.95zM314.63 180.58h1.95v1.95h-1.95zM317.54 180.64h1.95v1.95h-1.95zM320.44 180.61h1.95v1.95h-1.95zM322.89 180.60h1.95v1.95h-1.95zM299.15 183.24h1.95v1.95h-1.95zM301.66 183.45h1.95v1.95h-1.95zM304.78 183.17h1.95v1.95h-1.95zM307.45 183.20h1.95v1.95h-1.95zM310.34 183.46h1.95v1.95h-1.95zM313.44 183.37h1.95v1.95h-1.95zM316.32 183.37h1.95v1.95h-1.95zM318.80 183.23h1.95v1.95h-1.95zM321.64 183.42h1.95v1.95h-1.95zM324.83 183.20h1.95v1.95h-1.95zM290.11 186.12h1.95v1.95h-1.95zM292.97 186.03h1.95v1.95h-1.95zM295.84 185.94h1.95v1.95h-1.95zM298.46 186.03h1.95v1.95h-1.95zM301.21 186.03h1.95v1.95h-1.95zM304.24 186.19h1.95v1.95h-1.95zM307.28 186.09h1.95v1.95h-1.95zM309.72 185.90h1.95v1.95h-1.95zM312.98 185.82h1.95v1.95h-1.95zM315.73 186.21h1.95v1.95h-1.95zM318.44 186.09h1.95v1.95h-1.95zM321.45 186.12h1.95v1.95h-1.95zM324.05 185.82h1.95v1.95h-1.95zM326.88 185.92h1.95v1.95h-1.95zM329.95 186.05h1.95v1.95h-1.95zM332.77 186.09h1.95v1.95h-1.95zM335.48 185.84h1.95v1.95h-1.95zM289.76 188.56h1.95v1.95h-1.95zM292.65 188.60h1.95v1.95h-1.95zM295.91 188.83h1.95v1.95h-1.95zM298.66 188.63h1.95v1.95h-1.95zM301.28 188.72h1.95v1.95h-1.95zM304.20 188.85h1.95v1.95h-1.95zM307.29 188.70h1.95v1.95h-1.95zM309.69 188.89h1.95v1.95h-1.95zM312.95 188.88h1.95v1.95h-1.95zM315.51 188.56h1.95v1.95h-1.95zM318.68 188.62h1.95v1.95h-1.95zM321.37 188.82h1.95v1.95h-1.95zM324.00 188.60h1.95v1.95h-1.95zM326.97 188.82h1.95v1.95h-1.95zM329.74 188.58h1.95v1.95h-1.95zM335.75 188.61h1.95v1.95h-1.95zM290.21 191.45h1.95v1.95h-1.95zM292.64 191.62h1.95v1.95h-1.95zM295.61 191.51h1.95v1.95h-1.95zM298.40 191.62h1.95v1.95h-1.95zM301.32 191.61h1.95v1.95h-1.95zM304.07 191.39h1.95v1.95h-1.95zM307.01 191.56h1.95v1.95h-1.95zM310.11 191.32h1.95v1.95h-1.95zM312.94 191.40h1.95v1.95h-1.95zM315.59 191.35h1.95v1.95h-1.95zM318.58 191.34h1.95v1.95h-1.95zM321.31 191.37h1.95v1.95h-1.95zM324.15 191.35h1.95v1.95h-1.95zM326.96 191.49h1.95v1.95h-1.95zM329.90 191.33h1.95v1.95h-1.95zM332.85 191.53h1.95v1.95h-1.95zM335.76 191.69h1.95v1.95h-1.95zM290.15 194.09h1.95v1.95h-1.95zM292.84 194.14h1.95v1.95h-1.95zM295.86 194.13h1.95v1.95h-1.95zM298.41 194.42h1.95v1.95h-1.95zM301.49 194.08h1.95v1.95h-1.95zM304.13 194.13h1.95v1.95h-1.95zM307.01 194.10h1.95v1.95h-1.95zM309.92 194.12h1.95v1.95h-1.95zM315.63 194.06h1.95v1.95h-1.95zM318.60 194.26h1.95v1.95h-1.95zM321.32 194.29h1.95v1.95h-1.95zM324.00 194.37h1.95v1.95h-1.95zM327.15 194.39h1.95v1.95h-1.95zM330.08 194.12h1.95v1.95h-1.95zM332.77 194.41h1.95v1.95h-1.95zM335.37 194.13h1.95v1.95h-1.95zM289.74 196.97h1.95v1.95h-1.95zM292.67 197.09h1.95v1.95h-1.95zM295.89 196.95h1.95v1.95h-1.95zM298.28 197.17h1.95v1.95h-1.95zM301.36 197.00h1.95v1.95h-1.95zM304.22 197.19h1.95v1.95h-1.95zM306.93 197.13h1.95v1.95h-1.95zM310.17 196.97h1.95v1.95h-1.95zM313.01 196.92h1.95v1.95h-1.95zM315.55 197.06h1.95v1.95h-1.95zM318.41 196.86h1.95v1.95h-1.95zM321.08 197.03h1.95v1.95h-1.95zM324.15 197.02h1.95v1.95h-1.95zM326.84 196.89h1.95v1.95h-1.95zM330.11 196.85h1.95v1.95h-1.95zM332.74 197.02h1.95v1.95h-1.95zM335.77 196.81h1.95v1.95h-1.95zM289.84 199.60h1.95v1.95h-1.95zM292.80 199.70h1.95v1.95h-1.95zM295.76 199.88h1.95v1.95h-1.95zM298.41 199.91h1.95v1.95h-1.95zM301.15 199.90h1.95v1.95h-1.95zM303.98 199.65h1.95v1.95h-1.95zM307.31 199.88h1.95v1.95h-1.95zM309.94 199.88h1.95v1.95h-1.95zM312.85 199.74h1.95v1.95h-1.95zM315.50 199.80h1.95v1.95h-1.95zM318.63 199.90h1.95v1.95h-1.95zM321.17 199.57h1.95v1.95h-1.95zM324.21 199.61h1.95v1.95h-1.95zM326.90 199.63h1.95v1.95h-1.95zM329.89 199.81h1.95v1.95h-1.95zM332.85 199.79h1.95v1.95h-1.95zM335.56 199.80h1.95v1.95h-1.95zM290.12 202.28h1.95v1.95h-1.95zM292.91 202.56h1.95v1.95h-1.95zM295.52 202.66h1.95v1.95h-1.95zM298.39 202.45h1.95v1.95h-1.95zM301.23 202.44h1.95v1.95h-1.95zM304.43 202.37h1.95v1.95h-1.95zM307.00 202.55h1.95v1.95h-1.95zM309.74 202.37h1.95v1.95h-1.95zM312.66 202.29h1.95v1.95h-1.95zM315.58 202.45h1.95v1.95h-1.95zM318.52 202.66h1.95v1.95h-1.95zM321.25 202.56h1.95v1.95h-1.95zM324.01 202.47h1.95v1.95h-1.95zM329.71 202.43h1.95v1.95h-1.95zM332.86 202.61h1.95v1.95h-1.95zM335.65 202.53h1.95v1.95h-1.95zM304.98 205.41h1.95v1.95h-1.95zM307.86 205.15h1.95v1.95h-1.95zM310.74 205.27h1.95v1.95h-1.95zM313.61 205.26h1.95v1.95h-1.95zM316.12 205.03h1.95v1.95h-1.95zM419.30 171.70h1.8v1.8h-1.8zM416.60 174.90h1.8v1.8h-1.8zM419.30 174.90h1.8v1.8h-1.8zM419.30 180.00h1.8v1.8h-1.8zM422.10 179.70h1.8v1.8h-1.8zM413.80 183.10h1.8v1.8h-1.8zM416.60 183.70h1.8v1.8h-1.8zM419.30 184.10h1.8v1.8h-1.8zM422.10 183.10h1.8v1.8h-1.8zM422.10 186.00h1.8v1.8h-1.8zM419.30 187.90h1.8v1.8h-1.8zM401.17 190.19h1.8v1.8h-1.8zM403.79 189.90h1.8v1.8h-1.8zM406.95 189.90h1.8v1.8h-1.8zM409.58 190.18h1.8v1.8h-1.8zM412.31 189.95h1.8v1.8h-1.8zM415.63 189.96h1.8v1.8h-1.8zM418.26 190.03h1.8v1.8h-1.8zM421.09 190.00h1.8v1.8h-1.8zM426.63 189.94h1.8v1.8h-1.8zM429.75 190.01h1.8v1.8h-1.8zM432.61 190.04h1.8v1.8h-1.8zM435.35 189.98h1.8v1.8h-1.8zM402.79 195.62h1.8v1.8h-1.8zM408.37 195.55h1.8v1.8h-1.8zM410.99 195.72h1.8v1.8h-1.8zM413.77 195.63h1.8v1.8h-1.8zM416.93 195.72h1.8v1.8h-1.8zM419.54 195.44h1.8v1.8h-1.8zM422.56 195.46h1.8v1.8h-1.8zM425.42 195.44h1.8v1.8h-1.8zM428.10 195.50h1.8v1.8h-1.8zM431.09 195.69h1.8v1.8h-1.8zM433.69 195.69h1.8v1.8h-1.8zM397.67 198.27h1.8v1.8h-1.8zM400.75 198.40h1.8v1.8h-1.8zM403.36 198.27h1.8v1.8h-1.8zM406.24 198.21h1.8v1.8h-1.8zM409.34 198.48h1.8v1.8h-1.8zM412.29 198.47h1.8v1.8h-1.8zM414.82 198.44h1.8v1.8h-1.8zM420.40 198.17h1.8v1.8h-1.8zM423.28 198.52h1.8v1.8h-1.8zM426.29 198.23h1.8v1.8h-1.8zM429.16 198.36h1.8v1.8h-1.8zM432.12 198.36h1.8v1.8h-1.8zM434.66 198.18h1.8v1.8h-1.8zM437.70 198.25h1.8v1.8h-1.8zM440.64 198.24h1.8v1.8h-1.8zM402.97 201.09h1.8v1.8h-1.8zM406.04 201.05h1.8v1.8h-1.8zM408.97 201.27h1.8v1.8h-1.8zM411.41 201.08h1.8v1.8h-1.8zM414.35 200.91h1.8v1.8h-1.8zM417.51 200.95h1.8v1.8h-1.8zM420.22 201.02h1.8v1.8h-1.8zM425.99 201.07h1.8v1.8h-1.8zM428.66 200.94h1.8v1.8h-1.8zM431.33 201.02h1.8v1.8h-1.8zM434.54 200.95h1.8v1.8h-1.8zM400.44 203.68h1.8v1.8h-1.8zM403.51 203.98h1.8v1.8h-1.8zM406.18 203.96h1.8v1.8h-1.8zM409.11 203.70h1.8v1.8h-1.8zM412.28 203.70h1.8v1.8h-1.8zM415.01 204.01h1.8v1.8h-1.8zM417.73 204.03h1.8v1.8h-1.8zM420.49 203.84h1.8v1.8h-1.8zM423.56 203.70h1.8v1.8h-1.8zM426.52 203.69h1.8v1.8h-1.8zM429.06 203.75h1.8v1.8h-1.8zM431.98 204.05h1.8v1.8h-1.8zM435.02 203.78h1.8v1.8h-1.8zM437.53 203.95h1.8v1.8h-1.8zM398.46 206.48h1.8v1.8h-1.8zM401.55 206.75h1.8v1.8h-1.8zM404.00 206.71h1.8v1.8h-1.8zM407.29 206.78h1.8v1.8h-1.8zM410.11 206.73h1.8v1.8h-1.8zM412.72 206.55h1.8v1.8h-1.8zM415.58 206.44h1.8v1.8h-1.8zM418.70 206.56h1.8v1.8h-1.8zM421.53 206.70h1.8v1.8h-1.8zM424.40 206.72h1.8v1.8h-1.8zM427.15 206.70h1.8v1.8h-1.8zM429.77 206.66h1.8v1.8h-1.8zM432.91 206.45h1.8v1.8h-1.8zM435.51 206.73h1.8v1.8h-1.8zM438.36 206.74h1.8v1.8h-1.8zM401.16 209.50h1.8v1.8h-1.8zM404.05 209.45h1.8v1.8h-1.8zM406.76 209.17h1.8v1.8h-1.8zM409.56 209.33h1.8v1.8h-1.8zM412.53 209.46h1.8v1.8h-1.8zM415.09 209.29h1.8v1.8h-1.8zM417.89 209.28h1.8v1.8h-1.8zM423.65 209.18h1.8v1.8h-1.8zM429.33 209.33h1.8v1.8h-1.8zM432.49 209.53h1.8v1.8h-1.8zM435.25 209.51h1.8v1.8h-1.8zM438.02 209.51h1.8v1.8h-1.8zM398.06 212.02h1.8v1.8h-1.8zM400.83 211.94h1.8v1.8h-1.8zM403.80 212.11h1.8v1.8h-1.8zM406.45 212.25h1.8v1.8h-1.8zM409.19 212.04h1.8v1.8h-1.8zM412.42 212.18h1.8v1.8h-1.8zM415.25 211.91h1.8v1.8h-1.8zM417.86 212.19h1.8v1.8h-1.8zM420.54 212.11h1.8v1.8h-1.8zM423.73 212.04h1.8v1.8h-1.8zM426.56 212.22h1.8v1.8h-1.8zM429.48 212.30h1.8v1.8h-1.8zM432.08 212.18h1.8v1.8h-1.8zM434.84 212.02h1.8v1.8h-1.8zM437.96 211.97h1.8v1.8h-1.8zM440.71 212.10h1.8v1.8h-1.8zM403.15 214.71h1.8v1.8h-1.8zM406.17 214.87h1.8v1.8h-1.8zM408.61 215.01h1.8v1.8h-1.8zM411.75 215.00h1.8v1.8h-1.8zM414.68 214.73h1.8v1.8h-1.8zM420.37 215.01h1.8v1.8h-1.8zM423.02 215.02h1.8v1.8h-1.8zM425.69 214.90h1.8v1.8h-1.8zM428.68 214.89h1.8v1.8h-1.8zM431.45 214.76h1.8v1.8h-1.8zM404.82 217.61h1.8v1.8h-1.8zM407.50 217.40h1.8v1.8h-1.8zM410.66 217.70h1.8v1.8h-1.8zM413.28 217.61h1.8v1.8h-1.8zM416.31 217.76h1.8v1.8h-1.8zM419.15 217.69h1.8v1.8h-1.8zM422.06 217.68h1.8v1.8h-1.8zM424.98 217.77h1.8v1.8h-1.8zM430.73 217.58h1.8v1.8h-1.8zM410.27 220.18h1.8v1.8h-1.8zM413.41 220.21h1.8v1.8h-1.8zM416.24 220.55h1.8v1.8h-1.8zM419.16 220.25h1.8v1.8h-1.8zM421.71 220.31h1.8v1.8h-1.8zM424.63 220.21h1.8v1.8h-1.8zM427.43 220.18h1.8v1.8h-1.8zM413.44 223.03h1.8v1.8h-1.8zM416.28 223.09h1.8v1.8h-1.8zM419.53 223.09h1.8v1.8h-1.8zM422.13 222.98h1.8v1.8h-1.8zM425.04 222.96h1.8v1.8h-1.8zM416.33 225.68h1.8v1.8h-1.8zM419.45 226.04h1.8v1.8h-1.8zM422.15 225.79h1.8v1.8h-1.8zM418.39 228.54h1.8v1.8h-1.8zM421.37 228.56h1.8v1.8h-1.8zM484.82 161.22h1.95v1.95h-1.95zM484.82 167.22h1.95v1.95h-1.95zM482.02 173.03h1.95v1.95h-1.95zM484.82 173.53h1.95v1.95h-1.95zM487.52 172.72h1.95v1.95h-1.95zM482.02 176.03h1.95v1.95h-1.95zM484.82 176.53h1.95v1.95h-1.95zM487.52 175.53h1.95v1.95h-1.95zM490.32 177.03h1.95v1.95h-1.95zM476.52 180.43h1.95v1.95h-1.95zM479.32 181.53h1.95v1.95h-1.95zM482.02 180.72h1.95v1.95h-1.95zM484.82 179.83h1.95v1.95h-1.95zM487.52 179.33h1.95v1.95h-1.95zM490.32 180.93h1.95v1.95h-1.95zM492.42 180.43h1.95v1.95h-1.95zM484.82 227.12h1.95v1.95h-1.95zM470.35 183.67h1.95v1.95h-1.95zM473.13 183.66h1.95v1.95h-1.95zM476.15 183.58h1.95v1.95h-1.95zM479.03 183.50h1.95v1.95h-1.95zM481.95 183.59h1.95v1.95h-1.95zM485.00 183.38h1.95v1.95h-1.95zM487.80 183.64h1.95v1.95h-1.95zM490.56 183.46h1.95v1.95h-1.95zM493.35 183.49h1.95v1.95h-1.95zM495.98 183.68h1.95v1.95h-1.95zM499.18 183.34h1.95v1.95h-1.95zM470.44 189.02h1.95v1.95h-1.95zM473.31 189.18h1.95v1.95h-1.95zM476.24 189.20h1.95v1.95h-1.95zM479.06 188.96h1.95v1.95h-1.95zM481.98 189.14h1.95v1.95h-1.95zM484.71 188.98h1.95v1.95h-1.95zM487.83 189.04h1.95v1.95h-1.95zM490.39 189.15h1.95v1.95h-1.95zM493.42 188.83h1.95v1.95h-1.95zM495.95 189.15h1.95v1.95h-1.95zM498.85 188.92h1.95v1.95h-1.95zM466.52 191.61h1.95v1.95h-1.95zM469.70 191.87h1.95v1.95h-1.95zM472.46 191.87h1.95v1.95h-1.95zM475.50 191.68h1.95v1.95h-1.95zM478.26 191.85h1.95v1.95h-1.95zM480.78 191.85h1.95v1.95h-1.95zM483.89 191.89h1.95v1.95h-1.95zM486.47 191.55h1.95v1.95h-1.95zM489.64 191.75h1.95v1.95h-1.95zM492.22 191.57h1.95v1.95h-1.95zM495.32 191.89h1.95v1.95h-1.95zM498.33 191.68h1.95v1.95h-1.95zM500.88 191.60h1.95v1.95h-1.95zM463.61 194.57h1.95v1.95h-1.95zM466.70 194.25h1.95v1.95h-1.95zM469.27 194.32h1.95v1.95h-1.95zM472.07 194.39h1.95v1.95h-1.95zM474.91 194.35h1.95v1.95h-1.95zM478.03 194.36h1.95v1.95h-1.95zM480.90 194.31h1.95v1.95h-1.95zM483.92 194.52h1.95v1.95h-1.95zM486.58 194.24h1.95v1.95h-1.95zM489.34 194.46h1.95v1.95h-1.95zM495.24 194.38h1.95v1.95h-1.95zM500.75 194.45h1.95v1.95h-1.95zM503.76 194.34h1.95v1.95h-1.95zM506.72 194.56h1.95v1.95h-1.95zM464.16 197.10h1.95v1.95h-1.95zM466.74 196.96h1.95v1.95h-1.95zM469.80 197.17h1.95v1.95h-1.95zM472.75 197.13h1.95v1.95h-1.95zM475.48 196.96h1.95v1.95h-1.95zM478.03 197.20h1.95v1.95h-1.95zM480.94 197.22h1.95v1.95h-1.95zM484.12 197.16h1.95v1.95h-1.95zM486.88 197.09h1.95v1.95h-1.95zM489.64 197.03h1.95v1.95h-1.95zM492.24 197.17h1.95v1.95h-1.95zM495.19 196.90h1.95v1.95h-1.95zM498.12 197.15h1.95v1.95h-1.95zM501.12 197.12h1.95v1.95h-1.95zM503.85 197.14h1.95v1.95h-1.95zM506.56 197.12h1.95v1.95h-1.95zM463.84 199.68h1.95v1.95h-1.95zM467.02 199.93h1.95v1.95h-1.95zM469.69 199.86h1.95v1.95h-1.95zM472.48 199.88h1.95v1.95h-1.95zM475.58 199.72h1.95v1.95h-1.95zM478.32 199.59h1.95v1.95h-1.95zM480.83 199.93h1.95v1.95h-1.95zM484.02 199.59h1.95v1.95h-1.95zM486.69 199.63h1.95v1.95h-1.95zM489.37 199.72h1.95v1.95h-1.95zM492.63 199.89h1.95v1.95h-1.95zM495.28 199.72h1.95v1.95h-1.95zM498.26 199.67h1.95v1.95h-1.95zM500.84 199.59h1.95v1.95h-1.95zM503.66 199.61h1.95v1.95h-1.95zM506.70 199.67h1.95v1.95h-1.95zM463.78 202.58h1.95v1.95h-1.95zM466.94 202.31h1.95v1.95h-1.95zM469.51 202.57h1.95v1.95h-1.95zM472.74 202.52h1.95v1.95h-1.95zM475.37 202.55h1.95v1.95h-1.95zM478.00 202.58h1.95v1.95h-1.95zM481.14 202.51h1.95v1.95h-1.95zM483.88 202.54h1.95v1.95h-1.95zM486.96 202.27h1.95v1.95h-1.95zM489.63 202.37h1.95v1.95h-1.95zM492.27 202.40h1.95v1.95h-1.95zM495.18 202.36h1.95v1.95h-1.95zM498.28 202.45h1.95v1.95h-1.95zM501.19 202.36h1.95v1.95h-1.95zM504.09 202.27h1.95v1.95h-1.95zM506.74 202.60h1.95v1.95h-1.95zM464.57 205.11h1.95v1.95h-1.95zM467.24 204.97h1.95v1.95h-1.95zM470.22 205.14h1.95v1.95h-1.95zM473.40 205.16h1.95v1.95h-1.95zM476.25 205.14h1.95v1.95h-1.95zM479.06 205.15h1.95v1.95h-1.95zM481.78 205.01h1.95v1.95h-1.95zM484.45 205.28h1.95v1.95h-1.95zM487.18 205.11h1.95v1.95h-1.95zM490.28 204.93h1.95v1.95h-1.95zM493.21 205.16h1.95v1.95h-1.95zM496.23 205.16h1.95v1.95h-1.95zM498.58 204.91h1.95v1.95h-1.95zM501.91 205.01h1.95v1.95h-1.95zM504.56 204.89h1.95v1.95h-1.95zM469.15 207.92h1.95v1.95h-1.95zM472.20 207.57h1.95v1.95h-1.95zM474.73 207.90h1.95v1.95h-1.95zM477.95 207.67h1.95v1.95h-1.95zM480.60 207.69h1.95v1.95h-1.95zM483.39 207.84h1.95v1.95h-1.95zM486.45 207.96h1.95v1.95h-1.95zM489.26 207.67h1.95v1.95h-1.95zM491.92 207.83h1.95v1.95h-1.95zM495.08 207.96h1.95v1.95h-1.95zM497.75 207.82h1.95v1.95h-1.95zM473.37 210.53h1.95v1.95h-1.95zM476.32 210.60h1.95v1.95h-1.95zM479.06 210.30h1.95v1.95h-1.95zM482.13 210.56h1.95v1.95h-1.95zM484.94 210.47h1.95v1.95h-1.95zM487.75 210.46h1.95v1.95h-1.95zM493.27 210.41h1.95v1.95h-1.95zM475.60 213.22h1.95v1.95h-1.95zM478.75 213.01h1.95v1.95h-1.95zM481.42 213.07h1.95v1.95h-1.95zM484.42 213.01h1.95v1.95h-1.95zM487.30 213.10h1.95v1.95h-1.95zM490.20 213.16h1.95v1.95h-1.95zM492.67 212.95h1.95v1.95h-1.95zM473.17 215.73h1.95v1.95h-1.95zM476.30 215.76h1.95v1.95h-1.95zM479.08 215.97h1.95v1.95h-1.95zM481.75 215.72h1.95v1.95h-1.95zM484.98 215.88h1.95v1.95h-1.95zM487.46 215.61h1.95v1.95h-1.95zM490.65 215.85h1.95v1.95h-1.95zM493.39 215.62h1.95v1.95h-1.95zM496.18 215.73h1.95v1.95h-1.95zM476.49 218.57h1.95v1.95h-1.95zM479.55 218.34h1.95v1.95h-1.95zM482.36 218.54h1.95v1.95h-1.95zM485.44 218.27h1.95v1.95h-1.95zM488.04 218.35h1.95v1.95h-1.95zM491.03 218.67h1.95v1.95h-1.95zM493.71 218.38h1.95v1.95h-1.95zM479.16 221.04h1.95v1.95h-1.95zM482.01 221.12h1.95v1.95h-1.95zM484.56 221.17h1.95v1.95h-1.95zM487.83 220.99h1.95v1.95h-1.95zM490.47 221.14h1.95v1.95h-1.95zM481.17 223.89h1.95v1.95h-1.95zM484.17 223.95h1.95v1.95h-1.95zM486.92 224.00h1.95v1.95h-1.95z" fill="#111"/>
</svg>
</body></html>
